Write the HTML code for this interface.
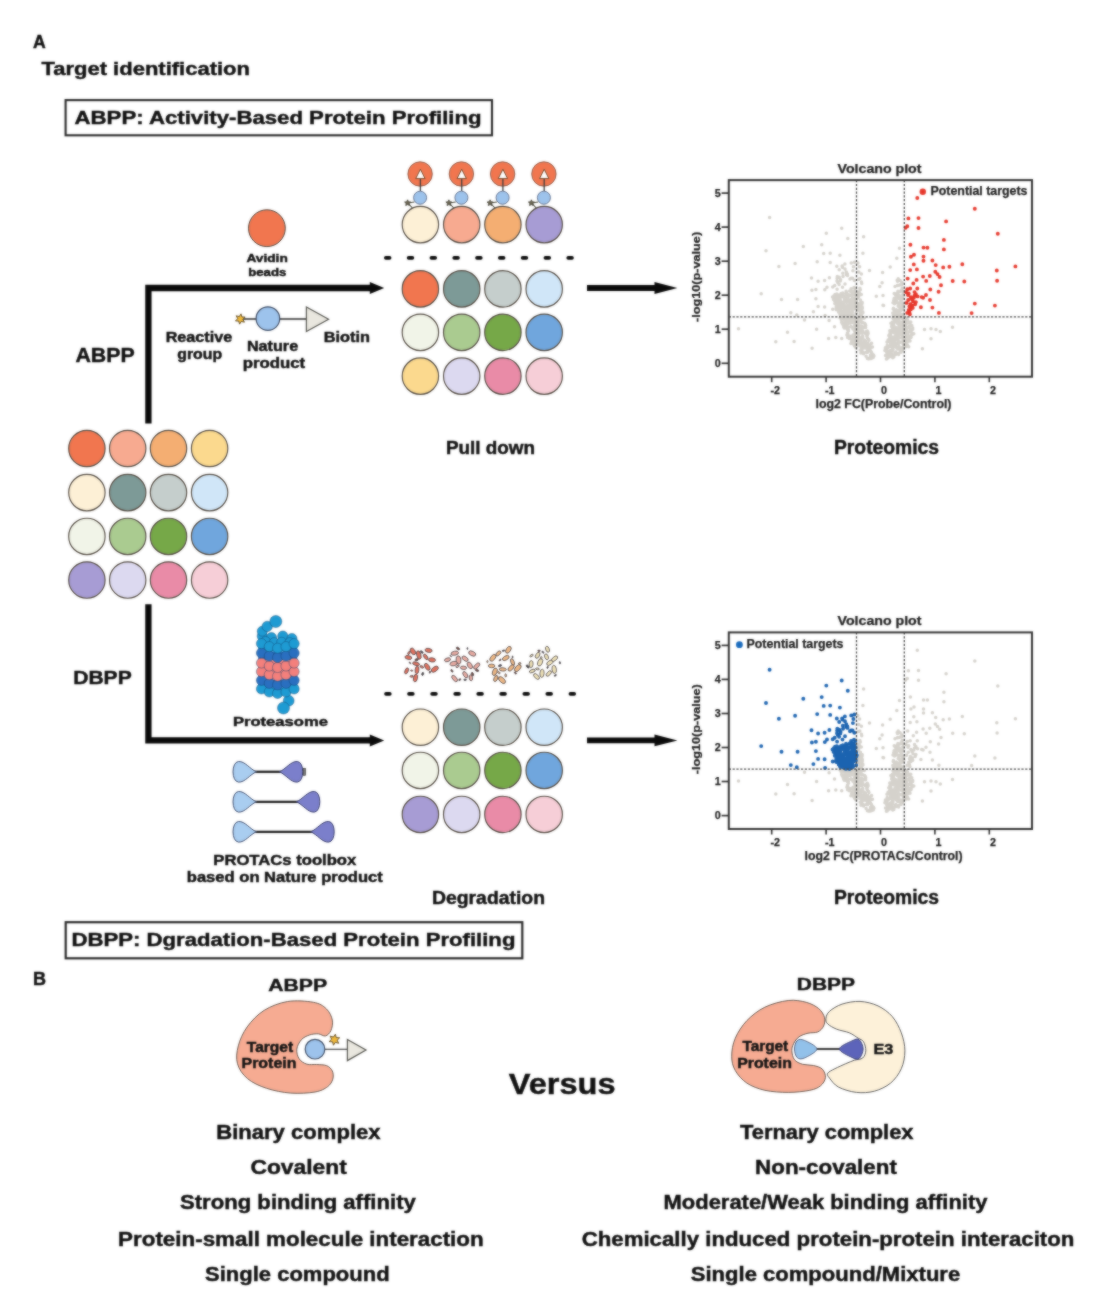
<!DOCTYPE html>
<html><head><meta charset="utf-8"><title>ABPP vs DBPP</title>
<style>
html,body{margin:0;padding:0;background:#fff;}
body{width:1114px;height:1302px;overflow:hidden;}
svg{display:block;}
svg text{font-family:"Liberation Sans",Arial,sans-serif;font-weight:700;}
</style></head><body>
<svg width="1114" height="1302" viewBox="0 0 1114 1302">
<defs><filter id="soft" color-interpolation-filters="sRGB" x="0" y="0" width="1114" height="1302" filterUnits="userSpaceOnUse"><feGaussianBlur in="SourceGraphic" stdDeviation="0.9" result="b"/><feComposite in="SourceGraphic" in2="b" operator="arithmetic" k1="0" k2="0.4" k3="0.6" k4="0"/></filter></defs>
<rect width="1114" height="1302" fill="#fff"/>
<g filter="url(#soft)">
<text x="33.1" y="48.1" font-size="17.60" text-anchor="start" fill="#111" stroke="#111" stroke-width="0.45" >A</text>
<text x="41.4" y="74.8" font-size="19.14" text-anchor="start" fill="#111" stroke="#111" stroke-width="0.45" textLength="208.6" lengthAdjust="spacingAndGlyphs" >Target identification</text>
<rect x="65.6" y="100.1" width="426.4" height="35.2" fill="#fff" stroke="#2a2a2a" stroke-width="2.1"/>
<text x="74.6" y="123.8" font-size="19.14" text-anchor="start" fill="#111" stroke="#111" stroke-width="0.45" textLength="407.0" lengthAdjust="spacingAndGlyphs" >ABPP: Activity-Based Protein Profiling</text>
<rect x="65.7" y="922.2" width="456.6" height="36.1" fill="#fff" stroke="#2a2a2a" stroke-width="2.2"/>
<text x="71.6" y="946.0" font-size="19.14" text-anchor="start" fill="#111" stroke="#111" stroke-width="0.45" textLength="443.8" lengthAdjust="spacingAndGlyphs" >DBPP: Dgradation-Based Protein Profiling</text>
<text x="32.9" y="985.3" font-size="18.04" text-anchor="start" fill="#111" stroke="#111" stroke-width="0.45" >B</text>
<path d="M148.4 423.5 V288 H371" fill="none" stroke="#0a0a0a" stroke-width="6.3" stroke-linejoin="miter"/>
<path d="M369.8 282 L384.2 288 L369.8 294 Z" fill="#0a0a0a"/>
<path d="M148.4 604.3 V740.4 H371" fill="none" stroke="#0a0a0a" stroke-width="6.3" stroke-linejoin="miter"/>
<path d="M369.8 734.4 L384.2 740.4 L369.8 746.4 Z" fill="#0a0a0a"/>
<path d="M587 288.0 H657" fill="none" stroke="#0a0a0a" stroke-width="5.9"/>
<path d="M654.5 282.1 L677.4 288.0 L654.5 293.9 Z" fill="#0a0a0a"/>
<path d="M587 740.4 H657" fill="none" stroke="#0a0a0a" stroke-width="5.9"/>
<path d="M654.5 734.5 L677.4 740.4 L654.5 746.3 Z" fill="#0a0a0a"/>
<text x="75.4" y="362.2" font-size="20.24" text-anchor="start" fill="#111" stroke="#111" stroke-width="0.45" textLength="59.3" lengthAdjust="spacingAndGlyphs" >ABPP</text>
<text x="73.2" y="684.3" font-size="19.14" text-anchor="start" fill="#111" stroke="#111" stroke-width="0.45" textLength="58.5" lengthAdjust="spacingAndGlyphs" >DBPP</text>
<circle cx="86.9" cy="448.5" r="18.2" fill="#f1764f" stroke="#50483f" stroke-width="1.15"/>
<circle cx="127.7" cy="448.5" r="18.2" fill="#f7aa90" stroke="#50483f" stroke-width="1.15"/>
<circle cx="168.5" cy="448.5" r="18.2" fill="#f4ae72" stroke="#50483f" stroke-width="1.15"/>
<circle cx="209.6" cy="448.5" r="18.2" fill="#fbd98e" stroke="#50483f" stroke-width="1.15"/>
<circle cx="86.9" cy="492.6" r="18.2" fill="#fdf0d6" stroke="#50483f" stroke-width="1.15"/>
<circle cx="127.7" cy="492.6" r="18.2" fill="#7d9a97" stroke="#50483f" stroke-width="1.15"/>
<circle cx="168.5" cy="492.6" r="18.2" fill="#c5cecc" stroke="#50483f" stroke-width="1.15"/>
<circle cx="209.6" cy="492.6" r="18.2" fill="#d0e6f8" stroke="#50483f" stroke-width="1.15"/>
<circle cx="86.9" cy="536.4" r="18.2" fill="#f1f4e8" stroke="#50483f" stroke-width="1.15"/>
<circle cx="127.7" cy="536.4" r="18.2" fill="#aacb90" stroke="#50483f" stroke-width="1.15"/>
<circle cx="168.5" cy="536.4" r="18.2" fill="#76a848" stroke="#50483f" stroke-width="1.15"/>
<circle cx="209.6" cy="536.4" r="18.2" fill="#70a6dd" stroke="#50483f" stroke-width="1.15"/>
<circle cx="86.9" cy="580.0" r="18.2" fill="#a79cd4" stroke="#50483f" stroke-width="1.15"/>
<circle cx="127.7" cy="580.0" r="18.2" fill="#dcd9f0" stroke="#50483f" stroke-width="1.15"/>
<circle cx="168.5" cy="580.0" r="18.2" fill="#e98ba7" stroke="#50483f" stroke-width="1.15"/>
<circle cx="209.6" cy="580.0" r="18.2" fill="#f6ced7" stroke="#50483f" stroke-width="1.15"/>
<circle cx="266.9" cy="228.2" r="18.4" fill="#f1764f" stroke="#50483f" stroke-width="1"/>
<text x="267.1" y="261.6" font-size="11.66" text-anchor="middle" fill="#111" stroke="#111" stroke-width="0.45" textLength="41.3" lengthAdjust="spacingAndGlyphs" >Avidin</text>
<text x="267.3" y="276.2" font-size="11.66" text-anchor="middle" fill="#111" stroke="#111" stroke-width="0.45" textLength="38.2" lengthAdjust="spacingAndGlyphs" >beads</text>
<path d="M243 319 H306.5" stroke="#2a2a2a" stroke-width="1.4" fill="none"/>
<polygon points="241.02,313.85 241.90,316.95 245.12,317.05 242.87,319.36 244.40,322.20 241.27,321.41 239.58,324.15 238.70,321.05 235.48,320.95 237.73,318.64 236.20,315.80 239.33,316.59" fill="#f0b93a" stroke="#5a4520" stroke-width="0.9" stroke-linejoin="round"/>
<circle cx="267.9" cy="318.6" r="11.8" fill="#9dc3ec" stroke="#3c4a62" stroke-width="1.2"/>
<path d="M306.4 306.9 L328.6 319.2 L306.4 331.6 Z" fill="#e9e7df" stroke="#55554f" stroke-width="1.2"/>
<text x="165.7" y="341.7" font-size="14.96" text-anchor="start" fill="#111" stroke="#111" stroke-width="0.45" textLength="66.5" lengthAdjust="spacingAndGlyphs" >Reactive</text>
<text x="177.3" y="358.5" font-size="14.96" text-anchor="start" fill="#111" stroke="#111" stroke-width="0.45" textLength="44.8" lengthAdjust="spacingAndGlyphs" >group</text>
<text x="246.9" y="351.0" font-size="14.96" text-anchor="start" fill="#111" stroke="#111" stroke-width="0.45" textLength="51.3" lengthAdjust="spacingAndGlyphs" >Nature</text>
<text x="242.7" y="367.8" font-size="14.96" text-anchor="start" fill="#111" stroke="#111" stroke-width="0.45" textLength="62.5" lengthAdjust="spacingAndGlyphs" >product</text>
<text x="323.7" y="341.7" font-size="14.96" text-anchor="start" fill="#111" stroke="#111" stroke-width="0.45" textLength="46.2" lengthAdjust="spacingAndGlyphs" >Biotin</text>
<circle cx="420.4" cy="224.6" r="18.2" fill="#fdf0d6" stroke="#50483f" stroke-width="1.15"/>
<circle cx="420.1" cy="174" r="12.2" fill="#f1764f" stroke="#7a4a38" stroke-width="0.8"/>
<path d="M420.4 178 V191" stroke="#3c3c3c" stroke-width="1.3"/>
<path d="M415.7 178.6 L420.4 169.2 L425.1 178.6 Z" fill="#fff" stroke="#7a4a2a" stroke-width="1"/>
<circle cx="420.1" cy="197.7" r="6.5" fill="#9dc3ec" stroke="#5a6a88" stroke-width="0.9"/>
<path d="M407.9 203 L414.4 202 M407.9 203 L412.4 208" stroke="#4a4a3a" stroke-width="1.1" fill="none"/>
<polygon points="407.60,199.80 408.54,201.71 410.64,202.01 409.12,203.49 409.48,205.59 407.60,204.60 405.72,205.59 406.08,203.49 404.56,202.01 406.66,201.71" fill="#6a6450" stroke="#3a382e" stroke-width="0.7" stroke-linejoin="round"/>
<circle cx="461.7" cy="224.6" r="18.2" fill="#f7aa90" stroke="#50483f" stroke-width="1.15"/>
<circle cx="461.4" cy="174" r="12.2" fill="#f1764f" stroke="#7a4a38" stroke-width="0.8"/>
<path d="M461.7 178 V191" stroke="#3c3c3c" stroke-width="1.3"/>
<path d="M457.0 178.6 L461.7 169.2 L466.4 178.6 Z" fill="#fff" stroke="#7a4a2a" stroke-width="1"/>
<circle cx="461.4" cy="197.7" r="6.5" fill="#9dc3ec" stroke="#5a6a88" stroke-width="0.9"/>
<path d="M449.2 203 L455.7 202 M449.2 203 L453.7 208" stroke="#4a4a3a" stroke-width="1.1" fill="none"/>
<polygon points="448.90,199.80 449.84,201.71 451.94,202.01 450.42,203.49 450.78,205.59 448.90,204.60 447.02,205.59 447.38,203.49 445.86,202.01 447.96,201.71" fill="#6a6450" stroke="#3a382e" stroke-width="0.7" stroke-linejoin="round"/>
<circle cx="502.9" cy="224.6" r="18.2" fill="#f4ae72" stroke="#50483f" stroke-width="1.15"/>
<circle cx="502.6" cy="174" r="12.2" fill="#f1764f" stroke="#7a4a38" stroke-width="0.8"/>
<path d="M502.9 178 V191" stroke="#3c3c3c" stroke-width="1.3"/>
<path d="M498.2 178.6 L502.9 169.2 L507.6 178.6 Z" fill="#fff" stroke="#7a4a2a" stroke-width="1"/>
<circle cx="502.6" cy="197.7" r="6.5" fill="#9dc3ec" stroke="#5a6a88" stroke-width="0.9"/>
<path d="M490.4 203 L496.9 202 M490.4 203 L494.9 208" stroke="#4a4a3a" stroke-width="1.1" fill="none"/>
<polygon points="490.10,199.80 491.04,201.71 493.14,202.01 491.62,203.49 491.98,205.59 490.10,204.60 488.22,205.59 488.58,203.49 487.06,202.01 489.16,201.71" fill="#6a6450" stroke="#3a382e" stroke-width="0.7" stroke-linejoin="round"/>
<circle cx="544.2" cy="224.6" r="18.2" fill="#a79cd4" stroke="#50483f" stroke-width="1.15"/>
<circle cx="543.9" cy="174" r="12.2" fill="#f1764f" stroke="#7a4a38" stroke-width="0.8"/>
<path d="M544.2 178 V191" stroke="#3c3c3c" stroke-width="1.3"/>
<path d="M539.5 178.6 L544.2 169.2 L548.9 178.6 Z" fill="#fff" stroke="#7a4a2a" stroke-width="1"/>
<circle cx="543.9" cy="197.7" r="6.5" fill="#9dc3ec" stroke="#5a6a88" stroke-width="0.9"/>
<path d="M531.7 203 L538.2 202 M531.7 203 L536.2 208" stroke="#4a4a3a" stroke-width="1.1" fill="none"/>
<polygon points="531.40,199.80 532.34,201.71 534.44,202.01 532.92,203.49 533.28,205.59 531.40,204.60 529.52,205.59 529.88,203.49 528.36,202.01 530.46,201.71" fill="#6a6450" stroke="#3a382e" stroke-width="0.7" stroke-linejoin="round"/>
<rect x="384.0" y="256.0" width="7.4" height="3.8" rx="1.8" fill="#0a0a0a"/>
<rect x="406.8" y="256.0" width="7.4" height="3.8" rx="1.8" fill="#0a0a0a"/>
<rect x="429.6" y="256.0" width="7.4" height="3.8" rx="1.8" fill="#0a0a0a"/>
<rect x="452.4" y="256.0" width="7.4" height="3.8" rx="1.8" fill="#0a0a0a"/>
<rect x="475.2" y="256.0" width="7.4" height="3.8" rx="1.8" fill="#0a0a0a"/>
<rect x="498.0" y="256.0" width="7.4" height="3.8" rx="1.8" fill="#0a0a0a"/>
<rect x="520.8" y="256.0" width="7.4" height="3.8" rx="1.8" fill="#0a0a0a"/>
<rect x="543.6" y="256.0" width="7.4" height="3.8" rx="1.8" fill="#0a0a0a"/>
<rect x="566.4" y="256.0" width="7.4" height="3.8" rx="1.8" fill="#0a0a0a"/>
<circle cx="420.4" cy="288.9" r="18.2" fill="#f1764f" stroke="#50483f" stroke-width="1.15"/>
<circle cx="461.7" cy="288.9" r="18.2" fill="#7d9a97" stroke="#50483f" stroke-width="1.15"/>
<circle cx="502.9" cy="288.9" r="18.2" fill="#c5cecc" stroke="#50483f" stroke-width="1.15"/>
<circle cx="544.2" cy="288.9" r="18.2" fill="#d0e6f8" stroke="#50483f" stroke-width="1.15"/>
<circle cx="420.4" cy="332.4" r="18.2" fill="#f1f4e8" stroke="#50483f" stroke-width="1.15"/>
<circle cx="461.7" cy="332.4" r="18.2" fill="#aacb90" stroke="#50483f" stroke-width="1.15"/>
<circle cx="502.9" cy="332.4" r="18.2" fill="#76a848" stroke="#50483f" stroke-width="1.15"/>
<circle cx="544.2" cy="332.4" r="18.2" fill="#70a6dd" stroke="#50483f" stroke-width="1.15"/>
<circle cx="420.4" cy="376.1" r="18.2" fill="#fbd98e" stroke="#50483f" stroke-width="1.15"/>
<circle cx="461.7" cy="376.1" r="18.2" fill="#dcd9f0" stroke="#50483f" stroke-width="1.15"/>
<circle cx="502.9" cy="376.1" r="18.2" fill="#e98ba7" stroke="#50483f" stroke-width="1.15"/>
<circle cx="544.2" cy="376.1" r="18.2" fill="#f6ced7" stroke="#50483f" stroke-width="1.15"/>
<text x="490.5" y="453.5" font-size="18.15" text-anchor="middle" fill="#111" stroke="#111" stroke-width="0.45" textLength="89.0" lengthAdjust="spacingAndGlyphs" >Pull down</text>
<text x="886.5" y="453.5" font-size="19.36" text-anchor="middle" fill="#111" stroke="#111" stroke-width="0.45" textLength="105.0" lengthAdjust="spacingAndGlyphs" >Proteomics</text>
<rect x="384.2" y="692.0" width="7.4" height="3.8" rx="1.8" fill="#0a0a0a"/>
<rect x="407.2" y="692.0" width="7.4" height="3.8" rx="1.8" fill="#0a0a0a"/>
<rect x="430.3" y="692.0" width="7.4" height="3.8" rx="1.8" fill="#0a0a0a"/>
<rect x="453.4" y="692.0" width="7.4" height="3.8" rx="1.8" fill="#0a0a0a"/>
<rect x="476.4" y="692.0" width="7.4" height="3.8" rx="1.8" fill="#0a0a0a"/>
<rect x="499.4" y="692.0" width="7.4" height="3.8" rx="1.8" fill="#0a0a0a"/>
<rect x="522.5" y="692.0" width="7.4" height="3.8" rx="1.8" fill="#0a0a0a"/>
<rect x="545.5" y="692.0" width="7.4" height="3.8" rx="1.8" fill="#0a0a0a"/>
<rect x="568.6" y="692.0" width="7.4" height="3.8" rx="1.8" fill="#0a0a0a"/>
<circle cx="420.4" cy="727.2" r="18.2" fill="#fdf0d6" stroke="#50483f" stroke-width="1.15"/>
<circle cx="461.7" cy="727.2" r="18.2" fill="#7d9a97" stroke="#50483f" stroke-width="1.15"/>
<circle cx="502.9" cy="727.2" r="18.2" fill="#c5cecc" stroke="#50483f" stroke-width="1.15"/>
<circle cx="544.2" cy="727.2" r="18.2" fill="#d0e6f8" stroke="#50483f" stroke-width="1.15"/>
<circle cx="420.4" cy="770.4" r="18.2" fill="#f1f4e8" stroke="#50483f" stroke-width="1.15"/>
<circle cx="461.7" cy="770.4" r="18.2" fill="#aacb90" stroke="#50483f" stroke-width="1.15"/>
<circle cx="502.9" cy="770.4" r="18.2" fill="#76a848" stroke="#50483f" stroke-width="1.15"/>
<circle cx="544.2" cy="770.4" r="18.2" fill="#70a6dd" stroke="#50483f" stroke-width="1.15"/>
<circle cx="420.4" cy="814.4" r="18.2" fill="#a79cd4" stroke="#50483f" stroke-width="1.15"/>
<circle cx="461.7" cy="814.4" r="18.2" fill="#dcd9f0" stroke="#50483f" stroke-width="1.15"/>
<circle cx="502.9" cy="814.4" r="18.2" fill="#e98ba7" stroke="#50483f" stroke-width="1.15"/>
<circle cx="544.2" cy="814.4" r="18.2" fill="#f6ced7" stroke="#50483f" stroke-width="1.15"/>
<ellipse cx="417.0" cy="670.0" rx="3.8" ry="1.9" transform="rotate(96 417.0 670.0)" fill="#e2705c" stroke="#4a4448" stroke-width="0.75"/>
<ellipse cx="416.1" cy="663.8" rx="3.6" ry="1.7" transform="rotate(16 416.1 663.8)" fill="#e2705c" stroke="#4a4448" stroke-width="0.75"/>
<ellipse cx="406.6" cy="670.9" rx="3.2" ry="1.6" transform="rotate(113 406.6 670.9)" fill="#e2705c" stroke="#4a4448" stroke-width="0.75"/>
<ellipse cx="432.0" cy="659.9" rx="3.5" ry="2.1" transform="rotate(8 432.0 659.9)" fill="#e2705c" stroke="#4a4448" stroke-width="0.75"/>
<ellipse cx="425.7" cy="656.9" rx="3.2" ry="1.6" transform="rotate(56 425.7 656.9)" fill="#e2705c" stroke="#4a4448" stroke-width="0.75"/>
<ellipse cx="408.4" cy="657.5" rx="3.5" ry="1.9" transform="rotate(11 408.4 657.5)" fill="#e2705c" stroke="#4a4448" stroke-width="0.75"/>
<ellipse cx="427.2" cy="666.8" rx="3.9" ry="2.1" transform="rotate(57 427.2 666.8)" fill="#e2705c" stroke="#4a4448" stroke-width="0.75"/>
<ellipse cx="415.5" cy="678.0" rx="3.9" ry="2.0" transform="rotate(103 415.5 678.0)" fill="#e2705c" stroke="#4a4448" stroke-width="0.75"/>
<ellipse cx="418.8" cy="655.0" rx="4.3" ry="2.1" transform="rotate(75 418.8 655.0)" fill="#e2705c" stroke="#4a4448" stroke-width="0.75"/>
<ellipse cx="412.9" cy="651.4" rx="3.7" ry="2.2" transform="rotate(56 412.9 651.4)" fill="#e2705c" stroke="#4a4448" stroke-width="0.75"/>
<ellipse cx="428.6" cy="650.4" rx="3.6" ry="2.0" transform="rotate(11 428.6 650.4)" fill="#e2705c" stroke="#4a4448" stroke-width="0.75"/>
<ellipse cx="434.8" cy="669.2" rx="4.0" ry="2.3" transform="rotate(144 434.8 669.2)" fill="#e2705c" stroke="#4a4448" stroke-width="0.75"/>
<ellipse cx="411.7" cy="670.6" rx="1.1" ry="0.6" transform="rotate(11 411.7 670.6)" fill="#e2705c" stroke="#4a4448" stroke-width="0.75"/>
<ellipse cx="429.9" cy="672.2" rx="1.1" ry="0.6" transform="rotate(97 429.9 672.2)" fill="#6a3a30" stroke="#4a4448" stroke-width="0.75"/>
<ellipse cx="422.7" cy="673.9" rx="1.6" ry="0.9" transform="rotate(108 422.7 673.9)" fill="#3a3a3a" stroke="#4a4448" stroke-width="0.75"/>
<ellipse cx="421.8" cy="666.9" rx="1.9" ry="1.0" transform="rotate(26 421.8 666.9)" fill="#e2705c" stroke="#4a4448" stroke-width="0.75"/>
<ellipse cx="416.6" cy="659.7" rx="1.8" ry="1.0" transform="rotate(163 416.6 659.7)" fill="#6a3a30" stroke="#4a4448" stroke-width="0.75"/>
<ellipse cx="421.7" cy="652.0" rx="1.7" ry="0.9" transform="rotate(40 421.7 652.0)" fill="#4a4a5a" stroke="#4a4448" stroke-width="0.75"/>
<ellipse cx="410.0" cy="662.9" rx="1.0" ry="0.5" transform="rotate(50 410.0 662.9)" fill="#6a3a30" stroke="#4a4448" stroke-width="0.75"/>
<ellipse cx="411.7" cy="676.3" rx="1.7" ry="0.9" transform="rotate(175 411.7 676.3)" fill="#e2705c" stroke="#4a4448" stroke-width="0.75"/>
<ellipse cx="408.9" cy="653.0" rx="1.8" ry="0.9" transform="rotate(118 408.9 653.0)" fill="#e2705c" stroke="#4a4448" stroke-width="0.75"/>
<ellipse cx="465.1" cy="658.7" rx="3.5" ry="2.0" transform="rotate(36 465.1 658.7)" fill="#ebaca2" stroke="#4a4448" stroke-width="0.75"/>
<ellipse cx="458.5" cy="660.0" rx="4.2" ry="2.4" transform="rotate(83 458.5 660.0)" fill="#ebaca2" stroke="#4a4448" stroke-width="0.75"/>
<ellipse cx="470.9" cy="677.8" rx="3.0" ry="1.7" transform="rotate(84 470.9 677.8)" fill="#ebaca2" stroke="#4a4448" stroke-width="0.75"/>
<ellipse cx="454.8" cy="653.2" rx="3.8" ry="2.0" transform="rotate(169 454.8 653.2)" fill="#ebaca2" stroke="#4a4448" stroke-width="0.75"/>
<ellipse cx="476.7" cy="666.0" rx="3.9" ry="1.9" transform="rotate(135 476.7 666.0)" fill="#ebaca2" stroke="#4a4448" stroke-width="0.75"/>
<ellipse cx="469.8" cy="665.4" rx="3.7" ry="2.1" transform="rotate(59 469.8 665.4)" fill="#ebaca2" stroke="#4a4448" stroke-width="0.75"/>
<ellipse cx="447.5" cy="659.8" rx="3.1" ry="1.8" transform="rotate(162 447.5 659.8)" fill="#ebaca2" stroke="#4a4448" stroke-width="0.75"/>
<ellipse cx="472.2" cy="653.5" rx="3.8" ry="2.2" transform="rotate(27 472.2 653.5)" fill="#ebaca2" stroke="#4a4448" stroke-width="0.75"/>
<ellipse cx="463.5" cy="667.8" rx="3.1" ry="1.7" transform="rotate(5 463.5 667.8)" fill="#ebaca2" stroke="#4a4448" stroke-width="0.75"/>
<ellipse cx="454.6" cy="678.5" rx="3.8" ry="1.9" transform="rotate(50 454.6 678.5)" fill="#ebaca2" stroke="#4a4448" stroke-width="0.75"/>
<ellipse cx="453.6" cy="663.6" rx="3.7" ry="2.2" transform="rotate(167 453.6 663.6)" fill="#ebaca2" stroke="#4a4448" stroke-width="0.75"/>
<ellipse cx="465.3" cy="674.7" rx="3.5" ry="1.9" transform="rotate(57 465.3 674.7)" fill="#ebaca2" stroke="#4a4448" stroke-width="0.75"/>
<ellipse cx="472.5" cy="674.1" rx="1.8" ry="1.0" transform="rotate(66 472.5 674.1)" fill="#6a3a30" stroke="#4a4448" stroke-width="0.75"/>
<ellipse cx="465.1" cy="679.8" rx="1.4" ry="0.7" transform="rotate(178 465.1 679.8)" fill="#4a4a5a" stroke="#4a4448" stroke-width="0.75"/>
<ellipse cx="477.1" cy="670.4" rx="1.7" ry="1.0" transform="rotate(19 477.1 670.4)" fill="#6a3a30" stroke="#4a4448" stroke-width="0.75"/>
<ellipse cx="459.8" cy="679.6" rx="1.2" ry="0.7" transform="rotate(148 459.8 679.6)" fill="#6a3a30" stroke="#4a4448" stroke-width="0.75"/>
<ellipse cx="451.9" cy="670.8" rx="1.5" ry="0.8" transform="rotate(59 451.9 670.8)" fill="#6a3a30" stroke="#4a4448" stroke-width="0.75"/>
<ellipse cx="457.6" cy="666.3" rx="1.8" ry="1.0" transform="rotate(144 457.6 666.3)" fill="#ebaca2" stroke="#4a4448" stroke-width="0.75"/>
<ellipse cx="458.0" cy="648.5" rx="1.9" ry="1.0" transform="rotate(33 458.0 648.5)" fill="#6a3a30" stroke="#4a4448" stroke-width="0.75"/>
<ellipse cx="467.4" cy="648.5" rx="1.0" ry="0.5" transform="rotate(91 467.4 648.5)" fill="#4a4a5a" stroke="#4a4448" stroke-width="0.75"/>
<ellipse cx="450.8" cy="656.0" rx="1.0" ry="0.5" transform="rotate(48 450.8 656.0)" fill="#ebaca2" stroke="#4a4448" stroke-width="0.75"/>
<ellipse cx="502.0" cy="680.1" rx="4.3" ry="2.3" transform="rotate(44 502.0 680.1)" fill="#efb884" stroke="#4a4448" stroke-width="0.75"/>
<ellipse cx="512.5" cy="662.0" rx="3.5" ry="1.7" transform="rotate(69 512.5 662.0)" fill="#efb884" stroke="#4a4448" stroke-width="0.75"/>
<ellipse cx="491.6" cy="665.9" rx="3.3" ry="1.8" transform="rotate(1 491.6 665.9)" fill="#efb884" stroke="#4a4448" stroke-width="0.75"/>
<ellipse cx="502.8" cy="669.4" rx="3.5" ry="1.7" transform="rotate(4 502.8 669.4)" fill="#efb884" stroke="#4a4448" stroke-width="0.75"/>
<ellipse cx="492.9" cy="657.8" rx="4.0" ry="2.2" transform="rotate(129 492.9 657.8)" fill="#efb884" stroke="#4a4448" stroke-width="0.75"/>
<ellipse cx="495.8" cy="678.5" rx="3.2" ry="1.8" transform="rotate(116 495.8 678.5)" fill="#efb884" stroke="#4a4448" stroke-width="0.75"/>
<ellipse cx="517.8" cy="668.1" rx="4.2" ry="2.3" transform="rotate(132 517.8 668.1)" fill="#efb884" stroke="#4a4448" stroke-width="0.75"/>
<ellipse cx="505.8" cy="658.0" rx="3.7" ry="2.0" transform="rotate(150 505.8 658.0)" fill="#efb884" stroke="#4a4448" stroke-width="0.75"/>
<ellipse cx="508.4" cy="649.8" rx="3.8" ry="2.2" transform="rotate(123 508.4 649.8)" fill="#efb884" stroke="#4a4448" stroke-width="0.75"/>
<ellipse cx="498.4" cy="653.4" rx="3.0" ry="1.7" transform="rotate(135 498.4 653.4)" fill="#efb884" stroke="#4a4448" stroke-width="0.75"/>
<ellipse cx="511.1" cy="667.9" rx="3.9" ry="2.0" transform="rotate(133 511.1 667.9)" fill="#efb884" stroke="#4a4448" stroke-width="0.75"/>
<ellipse cx="494.8" cy="671.8" rx="3.9" ry="2.2" transform="rotate(111 494.8 671.8)" fill="#efb884" stroke="#4a4448" stroke-width="0.75"/>
<ellipse cx="500.1" cy="660.0" rx="1.1" ry="0.6" transform="rotate(134 500.1 660.0)" fill="#6a3a30" stroke="#4a4448" stroke-width="0.75"/>
<ellipse cx="505.7" cy="675.4" rx="1.6" ry="0.8" transform="rotate(84 505.7 675.4)" fill="#efb884" stroke="#4a4448" stroke-width="0.75"/>
<ellipse cx="519.7" cy="663.4" rx="1.3" ry="0.8" transform="rotate(167 519.7 663.4)" fill="#efb884" stroke="#4a4448" stroke-width="0.75"/>
<ellipse cx="487.4" cy="661.6" rx="1.1" ry="0.6" transform="rotate(92 487.4 661.6)" fill="#efb884" stroke="#4a4448" stroke-width="0.75"/>
<ellipse cx="512.6" cy="657.0" rx="1.0" ry="0.5" transform="rotate(89 512.6 657.0)" fill="#3a3a3a" stroke="#4a4448" stroke-width="0.75"/>
<ellipse cx="498.9" cy="672.7" rx="1.4" ry="0.8" transform="rotate(35 498.9 672.7)" fill="#efb884" stroke="#4a4448" stroke-width="0.75"/>
<ellipse cx="515.4" cy="673.0" rx="1.3" ry="0.7" transform="rotate(45 515.4 673.0)" fill="#6a3a30" stroke="#4a4448" stroke-width="0.75"/>
<ellipse cx="500.0" cy="665.6" rx="1.7" ry="0.9" transform="rotate(158 500.0 665.6)" fill="#4a4a5a" stroke="#4a4448" stroke-width="0.75"/>
<ellipse cx="503.5" cy="650.7" rx="1.3" ry="0.6" transform="rotate(167 503.5 650.7)" fill="#4a4a5a" stroke="#4a4448" stroke-width="0.75"/>
<ellipse cx="548.8" cy="673.5" rx="3.4" ry="1.7" transform="rotate(133 548.8 673.5)" fill="#f1e4b8" stroke="#4a4448" stroke-width="0.75"/>
<ellipse cx="537.6" cy="655.3" rx="3.3" ry="1.8" transform="rotate(120 537.6 655.3)" fill="#f1e4b8" stroke="#4a4448" stroke-width="0.75"/>
<ellipse cx="554.2" cy="669.4" rx="4.1" ry="2.2" transform="rotate(82 554.2 669.4)" fill="#f1e4b8" stroke="#4a4448" stroke-width="0.75"/>
<ellipse cx="536.5" cy="676.5" rx="3.6" ry="1.9" transform="rotate(44 536.5 676.5)" fill="#f1e4b8" stroke="#4a4448" stroke-width="0.75"/>
<ellipse cx="546.5" cy="656.8" rx="3.0" ry="1.8" transform="rotate(69 546.5 656.8)" fill="#f1e4b8" stroke="#4a4448" stroke-width="0.75"/>
<ellipse cx="531.1" cy="664.1" rx="3.5" ry="2.0" transform="rotate(95 531.1 664.1)" fill="#f1e4b8" stroke="#4a4448" stroke-width="0.75"/>
<ellipse cx="547.5" cy="649.3" rx="3.1" ry="1.8" transform="rotate(69 547.5 649.3)" fill="#f1e4b8" stroke="#4a4448" stroke-width="0.75"/>
<ellipse cx="549.9" cy="662.7" rx="3.6" ry="2.0" transform="rotate(145 549.9 662.7)" fill="#f1e4b8" stroke="#4a4448" stroke-width="0.75"/>
<ellipse cx="554.6" cy="658.7" rx="3.6" ry="1.9" transform="rotate(141 554.6 658.7)" fill="#f1e4b8" stroke="#4a4448" stroke-width="0.75"/>
<ellipse cx="540.1" cy="662.3" rx="3.9" ry="2.3" transform="rotate(113 540.1 662.3)" fill="#f1e4b8" stroke="#4a4448" stroke-width="0.75"/>
<ellipse cx="542.0" cy="673.3" rx="4.1" ry="2.1" transform="rotate(95 542.0 673.3)" fill="#f1e4b8" stroke="#4a4448" stroke-width="0.75"/>
<ellipse cx="532.3" cy="671.0" rx="3.1" ry="1.5" transform="rotate(159 532.3 671.0)" fill="#f1e4b8" stroke="#4a4448" stroke-width="0.75"/>
<ellipse cx="539.0" cy="650.8" rx="1.3" ry="0.7" transform="rotate(1 539.0 650.8)" fill="#6a3a30" stroke="#4a4448" stroke-width="0.75"/>
<ellipse cx="542.9" cy="652.2" rx="1.2" ry="0.7" transform="rotate(56 542.9 652.2)" fill="#4a4a5a" stroke="#4a4448" stroke-width="0.75"/>
<ellipse cx="537.5" cy="668.9" rx="1.9" ry="0.9" transform="rotate(9 537.5 668.9)" fill="#f1e4b8" stroke="#4a4448" stroke-width="0.75"/>
<ellipse cx="547.6" cy="667.4" rx="1.1" ry="0.6" transform="rotate(117 547.6 667.4)" fill="#3a3a3a" stroke="#4a4448" stroke-width="0.75"/>
<ellipse cx="555.3" cy="675.4" rx="1.2" ry="0.6" transform="rotate(148 555.3 675.4)" fill="#3a3a3a" stroke="#4a4448" stroke-width="0.75"/>
<ellipse cx="531.5" cy="655.6" rx="1.9" ry="0.9" transform="rotate(149 531.5 655.6)" fill="#f1e4b8" stroke="#4a4448" stroke-width="0.75"/>
<ellipse cx="527.7" cy="666.5" rx="1.9" ry="1.0" transform="rotate(45 527.7 666.5)" fill="#3a3a3a" stroke="#4a4448" stroke-width="0.75"/>
<ellipse cx="541.3" cy="657.7" rx="1.2" ry="0.7" transform="rotate(83 541.3 657.7)" fill="#f1e4b8" stroke="#4a4448" stroke-width="0.75"/>
<ellipse cx="559.9" cy="662.8" rx="1.2" ry="0.6" transform="rotate(83 559.9 662.8)" fill="#4a4a5a" stroke="#4a4448" stroke-width="0.75"/>
<text x="488.5" y="903.5" font-size="18.15" text-anchor="middle" fill="#111" stroke="#111" stroke-width="0.45" textLength="113.0" lengthAdjust="spacingAndGlyphs" >Degradation</text>
<text x="886.5" y="903.5" font-size="19.36" text-anchor="middle" fill="#111" stroke="#111" stroke-width="0.45" textLength="105.0" lengthAdjust="spacingAndGlyphs" >Proteomics</text>
<rect x="258.2" y="640.9" width="39.1" height="10.8" fill="#1e9bd3"/>
<rect x="258.2" y="651.7" width="39.1" height="8.6" fill="#2a6fc0"/>
<rect x="258.2" y="660.3" width="39.1" height="19.4" fill="#f4807c"/>
<rect x="258.2" y="679.7" width="39.1" height="7.5" fill="#2a6fc0"/>
<rect x="258.2" y="687.3" width="39.1" height="5.4" fill="#1e9bd3"/>
<circle cx="262.3" cy="636.1" r="5.1" fill="#1e9bd3" stroke="#123f6a" stroke-width="0.6" stroke-opacity="0.7"/>
<circle cx="271.5" cy="637.7" r="5.1" fill="#1e9bd3" stroke="#123f6a" stroke-width="0.6" stroke-opacity="0.7"/>
<circle cx="282.8" cy="636.1" r="5.1" fill="#1e9bd3" stroke="#123f6a" stroke-width="0.6" stroke-opacity="0.7"/>
<circle cx="291.9" cy="638.6" r="5.1" fill="#1e9bd3" stroke="#123f6a" stroke-width="0.6" stroke-opacity="0.7"/>
<circle cx="262.3" cy="631.2" r="5.0" fill="#1e9bd3" stroke="#123f6a" stroke-width="0.6" stroke-opacity="0.7"/>
<circle cx="267.2" cy="626.4" r="5.2" fill="#1e9bd3" stroke="#123f6a" stroke-width="0.6" stroke-opacity="0.7"/>
<circle cx="288.7" cy="700.7" r="5.4" fill="#1e9bd3" stroke="#123f6a" stroke-width="0.6" stroke-opacity="0.7"/>
<circle cx="265.5" cy="641.5" r="5.0" fill="#1e9bd3" stroke="#123f6a" stroke-width="0.6" stroke-opacity="0.7"/>
<circle cx="274.2" cy="642.6" r="5.0" fill="#1e9bd3" stroke="#123f6a" stroke-width="0.6" stroke-opacity="0.7"/>
<circle cx="281.7" cy="642.2" r="5.0" fill="#1e9bd3" stroke="#123f6a" stroke-width="0.6" stroke-opacity="0.7"/>
<circle cx="289.8" cy="642.6" r="5.0" fill="#1e9bd3" stroke="#123f6a" stroke-width="0.6" stroke-opacity="0.7"/>
<circle cx="261.5" cy="688.9" r="5.1" fill="#1e9bd3" stroke="#123f6a" stroke-width="0.6" stroke-opacity="0.7"/>
<circle cx="269.3" cy="691.9" r="5.1" fill="#1e9bd3" stroke="#123f6a" stroke-width="0.6" stroke-opacity="0.7"/>
<circle cx="277.6" cy="693.4" r="5.1" fill="#1e9bd3" stroke="#123f6a" stroke-width="0.6" stroke-opacity="0.7"/>
<circle cx="286.0" cy="691.9" r="5.1" fill="#1e9bd3" stroke="#123f6a" stroke-width="0.6" stroke-opacity="0.7"/>
<circle cx="294.1" cy="688.9" r="5.1" fill="#1e9bd3" stroke="#123f6a" stroke-width="0.6" stroke-opacity="0.7"/>
<circle cx="261.5" cy="680.3" r="5.1" fill="#2a6fc0" stroke="#123f6a" stroke-width="0.6" stroke-opacity="0.7"/>
<circle cx="269.3" cy="683.3" r="5.1" fill="#2a6fc0" stroke="#123f6a" stroke-width="0.6" stroke-opacity="0.7"/>
<circle cx="277.6" cy="684.8" r="5.1" fill="#2a6fc0" stroke="#123f6a" stroke-width="0.6" stroke-opacity="0.7"/>
<circle cx="286.0" cy="683.3" r="5.1" fill="#2a6fc0" stroke="#123f6a" stroke-width="0.6" stroke-opacity="0.7"/>
<circle cx="294.1" cy="680.3" r="5.1" fill="#2a6fc0" stroke="#123f6a" stroke-width="0.6" stroke-opacity="0.7"/>
<circle cx="261.5" cy="671.6" r="5.1" fill="#f4807c" stroke="#123f6a" stroke-width="0.6" stroke-opacity="0.7"/>
<circle cx="269.3" cy="674.7" r="5.1" fill="#f4807c" stroke="#123f6a" stroke-width="0.6" stroke-opacity="0.7"/>
<circle cx="277.6" cy="676.2" r="5.1" fill="#f4807c" stroke="#123f6a" stroke-width="0.6" stroke-opacity="0.7"/>
<circle cx="286.0" cy="674.7" r="5.1" fill="#f4807c" stroke="#123f6a" stroke-width="0.6" stroke-opacity="0.7"/>
<circle cx="294.1" cy="671.6" r="5.1" fill="#f4807c" stroke="#123f6a" stroke-width="0.6" stroke-opacity="0.7"/>
<circle cx="261.5" cy="663.0" r="5.1" fill="#f4807c" stroke="#123f6a" stroke-width="0.6" stroke-opacity="0.7"/>
<circle cx="269.3" cy="666.0" r="5.1" fill="#f4807c" stroke="#123f6a" stroke-width="0.6" stroke-opacity="0.7"/>
<circle cx="277.6" cy="667.5" r="5.1" fill="#f4807c" stroke="#123f6a" stroke-width="0.6" stroke-opacity="0.7"/>
<circle cx="286.0" cy="666.0" r="5.1" fill="#f4807c" stroke="#123f6a" stroke-width="0.6" stroke-opacity="0.7"/>
<circle cx="294.1" cy="663.0" r="5.1" fill="#f4807c" stroke="#123f6a" stroke-width="0.6" stroke-opacity="0.7"/>
<circle cx="261.5" cy="653.0" r="5.1" fill="#2a6fc0" stroke="#123f6a" stroke-width="0.6" stroke-opacity="0.7"/>
<circle cx="269.3" cy="656.0" r="5.1" fill="#2a6fc0" stroke="#123f6a" stroke-width="0.6" stroke-opacity="0.7"/>
<circle cx="277.6" cy="657.5" r="5.1" fill="#2a6fc0" stroke="#123f6a" stroke-width="0.6" stroke-opacity="0.7"/>
<circle cx="286.0" cy="656.0" r="5.1" fill="#2a6fc0" stroke="#123f6a" stroke-width="0.6" stroke-opacity="0.7"/>
<circle cx="294.1" cy="653.0" r="5.1" fill="#2a6fc0" stroke="#123f6a" stroke-width="0.6" stroke-opacity="0.7"/>
<circle cx="261.5" cy="643.6" r="5.1" fill="#1e9bd3" stroke="#123f6a" stroke-width="0.6" stroke-opacity="0.7"/>
<circle cx="269.3" cy="646.6" r="5.1" fill="#1e9bd3" stroke="#123f6a" stroke-width="0.6" stroke-opacity="0.7"/>
<circle cx="277.6" cy="648.2" r="5.1" fill="#1e9bd3" stroke="#123f6a" stroke-width="0.6" stroke-opacity="0.7"/>
<circle cx="286.0" cy="646.6" r="5.1" fill="#1e9bd3" stroke="#123f6a" stroke-width="0.6" stroke-opacity="0.7"/>
<circle cx="294.1" cy="643.6" r="5.1" fill="#1e9bd3" stroke="#123f6a" stroke-width="0.6" stroke-opacity="0.7"/>
<circle cx="275.8" cy="621.5" r="6.0" fill="#1e9bd3" stroke="#123f6a" stroke-width="0.6" stroke-opacity="0.7"/>
<circle cx="283.5" cy="708.0" r="6.0" fill="#1e9bd3" stroke="#123f6a" stroke-width="0.6" stroke-opacity="0.7"/>
<text x="280.4" y="725.8" font-size="13.42" text-anchor="middle" fill="#111" stroke="#111" stroke-width="0.45" textLength="95.0" lengthAdjust="spacingAndGlyphs" >Proteasome</text>
<path d="M253.0 771.8 H282.8" stroke="#1e1e1e" stroke-width="2.3"/>
<path d="M256.5 771.8 C250.0 769.3 245.0 761.0 238.5 761.5 C231.2 762.0 231.2 781.6 238.5 782.1 C245.0 782.6 250.0 774.3 256.5 771.8 Z" fill="#a9cdf0" stroke="#3f4d6e" stroke-width="1"/>
<path d="M279.3 771.8 C285.8 769.3 290.8 761.0 297.3 761.5 C304.6 762.0 304.6 781.6 297.3 782.1 C290.8 782.6 285.8 774.3 279.3 771.8 Z" fill="#7b7fcb" stroke="#33386a" stroke-width="1"/>
<path d="M253.0 801.8 H299.8" stroke="#1e1e1e" stroke-width="2.3"/>
<path d="M256.5 801.8 C250.0 799.3 245.0 791.0 238.5 791.5 C231.2 792.0 231.2 811.6 238.5 812.1 C245.0 812.6 250.0 804.3 256.5 801.8 Z" fill="#a9cdf0" stroke="#3f4d6e" stroke-width="1"/>
<path d="M296.3 801.8 C302.8 799.3 307.8 791.0 314.3 791.5 C321.6 792.0 321.6 811.6 314.3 812.1 C307.8 812.6 302.8 804.3 296.3 801.8 Z" fill="#7b7fcb" stroke="#33386a" stroke-width="1"/>
<path d="M253.0 831.8 H314.2" stroke="#1e1e1e" stroke-width="2.3"/>
<path d="M256.5 831.8 C250.0 829.3 245.0 821.0 238.5 821.5 C231.2 822.0 231.2 841.6 238.5 842.1 C245.0 842.6 250.0 834.3 256.5 831.8 Z" fill="#a9cdf0" stroke="#3f4d6e" stroke-width="1"/>
<path d="M310.7 831.8 C317.2 829.3 322.2 821.0 328.7 821.5 C336.0 822.0 336.0 841.6 328.7 842.1 C322.2 842.6 317.2 834.3 310.7 831.8 Z" fill="#7b7fcb" stroke="#33386a" stroke-width="1"/>
<rect x="303.2" y="768.3" width="2.4" height="7" fill="#777" stroke="#333" stroke-width="0.6"/>
<text x="284.8" y="864.5" font-size="14.96" text-anchor="middle" fill="#111" stroke="#111" stroke-width="0.45" textLength="143.0" lengthAdjust="spacingAndGlyphs" >PROTACs toolbox</text>
<text x="284.8" y="881.5" font-size="14.96" text-anchor="middle" fill="#111" stroke="#111" stroke-width="0.45" textLength="196.0" lengthAdjust="spacingAndGlyphs" >based on Nature product</text>
<rect x="728.8" y="180.1" width="303.20000000000005" height="196.6" fill="#fff" stroke="none"/>
<path fill="none" stroke="#d5d2cc" stroke-width="3.5" stroke-linecap="round" d="M738.5 328.8h0M787.5 332.2h0M775.8 341.7h0M794.1 341.4h0M812.1 348.2h0M816.6 329.2h0M828.6 338.5h0M835.8 337.6h0M841.7 338.5h0M834.5 326.8h0M804.5 320.0h0M829.1 320.5h0M863.6 236.7h0M862.9 253.2h0M869.5 270.6h0M882.6 272.6h0M890.2 267.0h0M896.8 258.2h0M899.5 248.2h0M898.2 278.7h0M882.1 282.8h0M879.8 286.4h0M876.3 296.3h0M883.0 295.4h0M883.0 305.3h0M857.9 263.1h0M859.6 266.7h0M861.4 273.9h0M858.8 279.2h0M861.4 281.9h0M858.8 272.1h0M883.6 305.5h0M924.5 329.4h0M931.0 328.7h0M936.0 329.4h0M940.3 331.6h0M952.5 327.3h0M931.0 338.8h0M922.4 348.8h0M913.8 333.8h0M908.7 346.7h0M867.3 348.7h0M841.6 318.6h0M858.6 324.2h0M862.0 329.5h0M858.7 320.9h0M858.7 335.3h0M866.1 356.3h0M861.0 303.8h0M862.2 302.4h0M861.5 326.0h0M858.1 342.3h0M848.3 329.3h0M869.0 345.1h0M859.6 304.2h0M862.5 346.6h0M859.2 339.6h0M873.2 357.6h0M854.9 344.7h0M855.4 343.1h0M854.0 340.0h0M867.4 337.7h0M859.1 326.2h0M867.6 352.3h0M854.8 324.8h0M857.7 291.9h0M856.0 324.0h0M861.3 294.6h0M855.0 318.6h0M872.2 353.8h0M843.8 322.7h0M866.4 352.3h0M861.1 312.3h0M847.4 332.9h0M854.6 320.2h0M848.2 318.6h0M859.1 326.6h0M867.9 332.3h0M863.3 346.0h0M849.4 337.4h0M860.9 353.0h0M853.6 342.4h0M853.5 337.4h0M855.5 325.6h0M867.4 358.5h0M851.8 342.9h0M846.2 322.3h0M854.0 319.7h0M861.7 348.4h0M863.2 318.0h0M869.6 345.4h0M861.8 349.5h0M858.7 318.0h0M857.5 324.9h0M863.5 343.8h0M869.7 350.8h0M861.4 343.1h0M864.3 318.1h0M846.8 322.4h0M859.1 333.2h0M860.2 313.4h0M860.0 329.4h0M854.7 316.9h0M861.7 342.7h0M858.1 341.1h0M843.3 317.8h0M855.4 325.1h0M857.4 342.5h0M858.0 294.1h0M854.5 331.3h0M859.8 328.8h0M873.5 355.3h0M850.5 323.0h0M862.6 322.4h0M857.6 298.0h0M858.5 321.5h0M851.0 336.2h0M856.8 319.0h0M864.8 326.7h0M873.9 355.9h0M865.1 333.2h0M861.0 329.1h0M857.2 333.8h0M870.5 350.8h0M843.9 319.4h0M858.5 297.1h0M855.5 333.6h0M848.1 323.1h0M863.5 348.0h0M866.1 333.1h0M846.2 327.9h0M863.5 353.7h0M856.0 323.5h0M861.0 310.7h0M862.7 338.0h0M862.0 329.4h0M870.6 355.0h0M845.8 317.6h0M871.3 351.9h0M849.1 316.8h0M865.6 327.4h0M855.2 329.2h0M855.3 344.5h0M863.2 352.2h0M859.5 307.0h0M854.3 342.9h0M853.1 327.2h0M862.5 339.0h0M866.8 336.1h0M868.0 345.7h0M867.2 351.4h0M854.4 339.1h0M841.2 319.4h0M857.3 305.5h0M845.6 327.9h0M854.5 325.7h0M859.9 306.4h0M862.2 331.9h0M843.7 327.0h0M867.7 346.8h0M852.5 322.4h0M855.2 326.4h0M852.0 339.4h0M847.6 337.5h0M867.0 335.2h0M862.0 306.4h0M856.0 321.7h0M858.2 310.1h0M848.2 327.3h0M848.9 336.1h0M862.9 312.8h0M862.6 312.9h0M860.7 339.0h0M840.1 317.8h0M867.3 331.0h0M853.8 334.8h0M864.4 346.8h0M849.3 338.4h0M860.0 332.1h0M846.9 335.0h0M853.8 344.5h0M866.8 332.3h0M847.3 324.6h0M862.3 347.8h0M858.6 303.7h0M856.5 338.2h0M847.6 322.0h0M855.2 328.8h0M870.3 358.6h0M866.5 331.6h0M873.5 355.0h0M859.9 311.3h0M860.4 341.0h0M848.5 330.9h0M859.2 292.6h0M860.4 300.0h0M852.1 318.5h0M858.5 337.7h0M864.0 342.0h0M867.3 349.1h0M849.6 320.0h0M854.4 326.3h0M862.7 352.2h0M862.9 331.3h0M857.2 294.8h0M853.5 317.4h0M845.4 317.4h0M870.3 356.8h0M860.2 349.9h0M869.7 346.4h0M856.9 293.2h0M845.4 324.5h0M871.3 357.6h0M869.0 358.8h0M862.7 311.7h0M869.9 350.1h0M862.1 303.6h0M860.2 344.7h0M848.1 335.8h0M850.9 326.5h0M857.5 309.7h0M844.2 327.9h0M851.8 341.9h0M855.7 334.6h0M847.6 335.5h0M865.1 325.7h0M861.0 326.0h0M857.8 306.3h0M850.9 343.4h0M865.2 344.7h0M842.5 323.8h0M857.4 339.4h0M850.7 320.5h0M856.2 327.6h0M858.4 326.3h0M867.0 344.4h0M852.9 342.6h0M851.5 341.5h0M864.2 340.8h0M859.6 294.1h0M841.6 322.3h0M845.5 320.9h0M861.3 315.1h0M862.3 308.6h0M864.3 340.0h0M857.3 292.2h0M845.6 319.3h0M861.9 308.0h0M862.7 336.1h0M856.1 345.9h0M858.8 296.2h0M850.4 317.1h0M846.3 324.4h0M849.3 322.9h0M846.8 319.2h0M861.7 328.3h0M856.9 322.4h0M847.7 329.8h0M871.6 343.3h0M858.6 332.9h0M849.7 318.7h0M860.8 306.2h0M853.1 335.0h0M855.4 333.2h0M855.9 347.5h0M861.4 337.5h0M872.5 347.0h0M853.0 329.0h0M863.6 326.9h0M864.6 323.2h0M843.2 325.1h0M862.3 307.4h0M862.3 312.6h0M867.5 347.3h0M856.2 319.1h0M861.9 333.1h0M867.0 345.4h0M860.4 306.0h0M861.1 319.0h0M858.8 317.4h0M871.3 358.4h0M855.1 323.4h0M865.8 348.0h0M844.4 317.1h0M858.2 342.9h0M861.4 327.8h0M858.5 309.0h0M842.1 323.3h0M852.7 318.7h0M859.8 333.1h0M868.4 358.7h0M845.5 325.6h0M854.5 346.0h0M865.4 340.8h0M866.9 343.1h0M861.8 307.3h0M856.5 305.7h0M859.8 346.1h0M847.8 334.1h0M863.4 327.8h0M860.8 302.3h0M847.2 319.8h0M841.8 318.2h0M861.9 302.3h0M858.9 316.2h0M859.3 304.7h0M868.1 333.5h0M853.6 329.3h0M861.2 321.3h0M860.2 319.0h0M857.5 329.6h0M858.6 320.9h0M857.2 331.1h0M867.4 334.9h0M871.4 347.3h0M865.7 325.4h0M868.6 339.2h0M851.5 327.1h0M865.2 323.9h0M868.0 343.3h0M868.4 347.7h0M868.9 340.3h0M858.7 309.3h0M857.6 338.0h0M861.4 322.3h0M911.8 332.7h0M894.5 303.8h0M893.1 318.6h0M896.5 347.4h0M896.0 322.0h0M894.1 339.3h0M890.9 330.6h0M892.3 351.1h0M892.4 349.8h0M903.9 321.9h0M905.9 332.1h0M897.2 294.5h0M896.3 309.7h0M892.6 338.7h0M903.8 307.2h0M896.1 299.3h0M896.3 313.9h0M901.4 328.2h0M886.8 352.8h0M895.0 340.6h0M903.7 314.1h0M897.8 315.3h0M897.7 312.1h0M903.8 332.4h0M908.4 335.5h0M895.8 336.0h0M888.8 335.5h0M902.3 342.0h0M891.4 346.8h0M905.5 344.4h0M899.8 327.4h0M887.2 345.3h0M892.8 325.5h0M899.1 310.6h0M896.1 293.8h0M900.4 322.2h0M895.9 332.9h0M888.4 347.3h0M905.6 339.9h0M892.8 357.7h0M902.9 349.4h0M887.2 354.4h0M893.6 324.3h0M911.9 329.8h0M898.7 353.3h0M895.6 311.0h0M894.8 320.1h0M898.0 315.1h0M896.6 321.6h0M885.4 348.5h0M900.1 318.0h0M894.9 312.0h0M898.2 306.1h0M906.1 324.1h0M894.7 331.9h0M894.8 311.1h0M901.9 331.3h0M893.2 324.9h0M899.2 342.8h0M907.5 319.8h0M892.4 337.6h0M886.4 358.9h0M893.3 347.4h0M907.2 335.0h0M902.8 291.6h0M901.1 290.4h0M905.7 319.3h0M907.0 320.9h0M897.1 320.6h0M887.3 348.4h0M903.6 328.4h0M893.1 356.8h0M899.8 348.8h0M887.5 351.2h0M897.9 292.2h0M896.7 316.5h0M898.5 338.3h0M895.4 344.5h0M887.0 342.0h0M901.4 326.4h0M895.4 330.2h0M901.2 323.7h0M891.6 341.2h0M900.9 308.0h0M885.8 347.8h0M895.1 340.2h0M896.7 333.3h0M910.8 321.9h0M898.3 306.2h0M893.0 349.4h0M900.7 328.6h0M893.8 300.6h0M902.0 298.5h0M906.5 330.8h0M892.5 350.1h0M899.8 307.8h0M892.1 325.7h0M901.9 328.1h0M905.6 327.4h0M885.5 355.6h0M894.6 345.1h0M894.9 341.1h0M911.8 325.4h0M900.7 314.4h0M890.8 356.5h0M887.2 355.9h0M900.6 298.4h0M899.3 295.4h0M899.5 302.9h0M899.5 314.8h0M898.7 303.8h0M904.8 319.2h0M898.3 295.5h0M898.3 329.1h0M912.7 329.3h0M893.8 339.2h0M901.4 338.0h0M902.0 332.9h0M908.5 338.2h0M899.3 330.6h0M906.3 346.6h0M893.8 314.3h0M891.7 331.0h0M899.5 313.5h0M903.9 321.9h0M890.8 351.8h0M891.4 323.6h0M890.9 335.8h0M891.6 326.6h0M891.4 351.4h0M892.8 313.1h0M905.4 337.2h0M907.3 327.8h0M894.9 315.0h0M895.4 299.5h0M907.3 344.8h0M893.9 345.4h0M895.1 310.1h0M901.5 341.9h0M898.0 347.3h0M895.2 294.6h0M890.0 351.5h0M894.0 355.2h0M888.1 340.0h0M910.0 340.9h0M894.9 298.4h0M892.0 355.8h0M894.2 293.5h0M893.0 302.8h0M899.9 329.8h0M906.5 326.9h0M893.1 343.3h0M911.3 325.3h0M900.7 310.6h0M897.5 332.2h0M908.9 322.6h0M889.5 356.1h0M906.5 318.1h0M889.0 341.6h0M890.4 346.0h0M898.7 335.7h0M897.7 302.8h0M902.2 315.9h0M897.9 333.7h0M893.3 315.0h0M910.1 330.7h0M896.2 327.8h0M897.5 313.3h0M901.2 301.1h0M894.2 329.2h0M898.6 354.6h0M899.1 316.6h0M891.9 330.2h0M902.6 322.4h0M898.2 334.9h0M897.0 295.9h0M891.4 353.2h0M898.8 319.9h0M898.4 323.8h0M892.5 348.9h0M898.8 314.0h0M904.2 345.9h0M905.0 346.7h0M891.1 354.4h0M894.1 345.5h0M911.5 335.1h0M887.1 358.8h0M889.4 338.6h0M902.3 298.8h0M902.8 324.5h0M895.3 314.8h0M903.2 344.3h0M904.5 326.1h0M893.2 309.1h0M889.4 335.4h0M893.7 354.9h0M912.1 333.4h0M893.8 309.6h0M899.4 324.2h0M884.9 350.4h0M899.7 323.1h0M889.8 330.7h0M894.4 326.9h0M912.0 334.8h0M896.2 318.5h0M890.9 323.2h0M896.7 338.0h0M906.5 328.9h0M899.5 303.3h0M892.0 340.4h0M906.6 335.4h0M904.8 322.0h0M896.7 297.5h0M904.5 320.7h0M900.9 342.1h0M895.8 335.5h0M904.1 333.1h0M897.9 291.2h0M897.8 297.4h0M898.3 331.2h0M890.4 350.6h0M899.0 318.8h0M895.7 352.1h0M891.5 345.4h0M904.9 321.4h0M894.7 320.6h0M897.3 312.1h0M902.4 318.8h0M892.9 344.1h0M897.4 323.2h0M909.9 321.9h0M895.0 352.9h0M895.8 337.0h0M903.3 336.8h0M896.8 335.8h0M890.6 344.0h0M894.0 339.8h0M902.1 305.5h0M889.7 353.9h0M895.5 331.4h0M905.0 343.4h0M906.0 330.6h0M891.3 339.4h0M900.5 328.1h0M892.0 329.7h0M899.5 324.7h0M910.4 336.5h0M892.5 346.5h0M896.3 300.2h0M901.8 322.3h0M894.3 343.2h0M904.4 338.3h0M899.8 291.7h0M895.0 336.0h0M907.4 341.8h0M891.7 324.3h0M890.1 339.3h0M897.9 312.0h0M897.0 346.9h0M900.8 332.7h0M890.5 333.4h0M888.3 357.5h0M894.0 320.8h0M896.7 348.0h0M911.0 337.4h0M890.7 340.3h0M885.7 348.9h0M900.0 330.9h0M901.7 350.4h0M903.6 338.7h0M893.4 322.7h0M892.4 329.3h0M894.4 315.2h0M893.1 331.5h0M908.9 322.9h0M899.0 311.9h0M902.3 336.2h0M904.4 325.1h0M896.1 317.3h0M898.8 322.8h0M899.6 327.3h0M907.5 333.5h0M904.1 338.4h0M905.9 321.8h0M895.7 328.7h0M912.7 328.1h0M899.1 311.7h0M909.4 326.2h0M902.8 297.8h0M896.8 343.4h0M901.4 330.8h0M910.6 337.2h0M900.0 313.6h0M901.0 334.2h0M903.3 305.0h0M893.8 357.1h0M900.4 297.1h0M902.8 308.4h0M908.0 340.7h0M893.4 308.2h0M902.7 333.1h0M900.6 316.8h0M911.1 337.2h0M908.9 339.1h0M902.5 316.8h0M905.1 324.6h0M895.3 327.2h0M893.7 300.4h0M898.7 343.6h0M900.6 306.7h0M889.5 340.8h0M886.2 350.6h0M897.7 349.1h0M902.2 342.2h0M906.4 340.6h0M885.4 347.8h0M909.0 332.1h0M889.8 334.9h0M899.8 316.3h0M898.9 317.2h0M897.9 292.8h0M902.1 303.6h0M910.2 331.2h0M895.5 328.0h0M895.2 339.6h0M894.9 339.5h0M906.1 344.9h0M887.2 358.6h0M894.6 332.4h0M901.0 352.3h0M900.6 299.2h0M902.5 309.6h0M893.5 332.5h0M900.4 313.8h0M902.8 294.6h0M898.2 340.6h0M896.4 312.3h0M895.7 311.9h0M905.9 322.4h0M889.9 333.2h0M896.2 302.8h0M905.5 330.1h0M908.3 337.9h0M900.1 350.0h0M894.9 297.9h0M899.6 299.0h0M901.8 347.7h0M894.1 298.4h0M903.8 341.0h0M910.1 328.8h0M901.1 350.4h0M892.4 344.2h0M902.6 322.8h0M891.7 332.1h0M899.0 325.8h0M901.9 337.8h0M892.5 321.9h0M898.9 346.3h0M895.6 354.5h0M859.8 278.6h0M859.9 288.2h0M860.2 289.7h0M861.7 283.5h0M860.3 289.8h0M901.9 282.8h0M900.1 280.4h0M895.0 286.5h0M899.7 284.9h0M901.4 284.8h0M897.8 285.5h0M897.5 281.2h0M897.4 285.5h0M897.2 280.2h0M902.1 288.2h0"/>
<path fill="none" stroke="#d5d2cc" stroke-width="3.5" stroke-linecap="round" d="M769.6 217.4h0M841.7 228.2h0M826.3 233.3h0M847.8 238.4h0M821.7 244.8h0M803.3 246.4h0M766.0 250.7h0M823.7 253.6h0M830.2 253.3h0M839.9 255.3h0M817.2 261.8h0M830.2 262.6h0M795.1 263.5h0M854.3 262.2h0M778.9 266.4h0M842.1 266.1h0M845.0 269.0h0M839.2 269.7h0M852.9 270.8h0M842.8 273.3h0M846.4 274.7h0M811.5 278.0h0M829.4 277.7h0M818.1 281.2h0M824.6 280.4h0M837.1 278.3h0M840.6 279.7h0M850.0 279.0h0M854.3 280.4h0M837.8 282.6h0M845.0 284.0h0M832.7 286.9h0M827.0 287.2h0M824.8 289.8h0M811.9 290.2h0M815.9 289.5h0M761.2 293.8h0M781.5 299.4h0M797.6 299.4h0M815.9 298.8h0M818.1 306.6h0M824.6 307.0h0M832.7 309.2h0M813.4 311.8h0M790.8 312.8h0M796.8 314.9h0M825.1 315.6h0M843.7 305.1h0M855.9 302.5h0M845.2 305.8h0M836.8 303.8h0M848.3 311.4h0M834.5 298.1h0M850.0 290.9h0M848.9 306.6h0M836.9 296.4h0M843.4 312.8h0M845.4 307.3h0M844.9 307.9h0M843.9 297.4h0M853.8 309.1h0M840.2 296.0h0M851.8 300.7h0M853.9 300.3h0M855.6 302.6h0M852.2 297.1h0M834.3 298.9h0M835.1 296.5h0M852.6 294.6h0M846.5 302.0h0M835.0 301.3h0M837.5 297.1h0M839.9 313.9h0M837.5 300.5h0M854.1 307.3h0M837.5 296.8h0M852.0 298.8h0M838.3 306.2h0M841.6 302.2h0M856.8 303.0h0M846.9 313.4h0M836.8 294.0h0M838.5 295.0h0M851.1 315.4h0M854.8 306.3h0M838.2 309.0h0M838.7 312.3h0M847.4 297.8h0M833.8 296.0h0M846.5 313.0h0M847.9 297.4h0M855.7 295.3h0M832.5 297.1h0M836.6 299.8h0M846.8 293.4h0M841.4 314.1h0M849.9 305.7h0M850.2 316.1h0M844.5 309.7h0M851.1 314.3h0M851.1 309.0h0M852.5 314.8h0M841.1 308.5h0M842.8 311.4h0M854.4 305.4h0M848.2 300.2h0M847.1 306.4h0M850.9 300.4h0M851.0 305.6h0M843.4 312.7h0M844.5 296.1h0M850.1 303.4h0M847.9 314.9h0M839.8 308.3h0M837.3 294.4h0M855.4 307.8h0M843.5 314.1h0M840.5 308.0h0M837.2 301.5h0M852.9 314.7h0M854.8 300.3h0M847.1 298.4h0M844.1 301.7h0M851.3 309.0h0M833.5 299.4h0M851.5 291.7h0M852.3 302.4h0M844.0 313.9h0M852.8 292.0h0M838.5 300.3h0M845.6 316.4h0M856.4 303.9h0M852.4 311.9h0M840.7 305.7h0M843.1 303.7h0M854.6 301.1h0M843.4 296.7h0M840.5 294.9h0M856.2 300.1h0M840.3 304.1h0M840.8 301.4h0M853.9 291.1h0M834.8 303.5h0M848.2 296.8h0M847.8 309.8h0M842.8 293.0h0M841.1 293.6h0M854.5 298.6h0M851.5 308.1h0M847.6 308.8h0M855.1 295.0h0M841.4 313.8h0M835.8 298.3h0M850.2 307.9h0M850.4 315.5h0M844.4 299.9h0M847.8 298.1h0M843.0 315.0h0M847.8 315.1h0M836.2 295.7h0M849.0 313.4h0M850.1 300.1h0M848.2 301.6h0M834.2 297.5h0M840.3 305.0h0M840.4 309.4h0M852.6 305.3h0M839.2 300.9h0M846.0 307.9h0M836.1 308.7h0M845.6 311.5h0M845.0 313.3h0M843.3 303.8h0M838.5 296.5h0M836.4 305.7h0M839.2 298.6h0M849.5 295.0h0M848.7 312.9h0M849.7 291.1h0M836.2 306.9h0M855.9 308.3h0M855.3 295.3h0M856.2 302.0h0M854.2 308.2h0M856.2 313.0h0M846.0 293.8h0M854.4 306.5h0M842.5 294.7h0M842.8 310.7h0M846.1 294.3h0M849.1 314.7h0M852.2 304.3h0M852.2 301.9h0M834.8 297.4h0M851.1 295.5h0M841.9 311.2h0M840.2 306.3h0M842.2 310.8h0M854.6 293.2h0M836.3 309.7h0M853.4 302.5h0M853.3 292.5h0M840.2 300.5h0M838.8 311.5h0M839.8 307.6h0M847.8 305.0h0M848.9 310.6h0M850.2 295.3h0M842.2 307.5h0M855.5 306.7h0M847.8 313.3h0M841.6 314.0h0M839.5 304.1h0M848.5 295.0h0M840.2 308.2h0M847.6 300.6h0M846.0 316.6h0M854.2 293.8h0M849.0 306.5h0M834.4 300.4h0M855.2 299.4h0M838.8 304.2h0M849.5 316.7h0M844.8 313.9h0M844.3 301.0h0M842.6 296.4h0M848.9 315.2h0M846.2 307.5h0M845.5 314.9h0M840.7 305.8h0M849.0 306.6h0M848.0 309.8h0M842.5 307.2h0M846.1 302.3h0M853.9 298.7h0M846.3 291.9h0M848.1 311.4h0M839.9 297.4h0M852.9 298.3h0M846.1 291.3h0M856.1 299.9h0M847.8 308.0h0M836.0 302.6h0M837.6 295.2h0M848.8 315.5h0M847.3 309.3h0M837.1 299.9h0M849.4 312.2h0M840.3 314.7h0M848.6 305.9h0M854.0 292.2h0M853.0 306.2h0M847.8 297.0h0M837.6 302.6h0M850.5 291.1h0M846.7 311.8h0M840.2 298.9h0M838.1 298.0h0M847.5 275.6h0M847.4 274.1h0M844.9 264.1h0M853.4 266.7h0M837.3 276.5h0M851.1 288.7h0M846.3 271.9h0M836.8 266.2h0M834.7 285.5h0M839.2 277.3h0M851.2 263.1h0M837.1 289.3h0M852.6 278.2h0M851.1 278.2h0M839.1 284.4h0M835.0 294.5h0M842.5 287.3h0M837.0 280.9h0M840.3 281.1h0M842.4 267.3h0M855.4 288.6h0M843.0 276.4h0M854.0 287.4h0"/>
<path fill="none" stroke="#e6372b" stroke-width="3.9" stroke-linecap="round" d="M917.3 198.0h0M974.8 208.8h0M908.4 218.4h0M918.5 218.1h0M946.1 221.4h0M907.3 226.3h0M905.6 227.7h0M918.5 228.0h0M997.8 233.8h0M943.9 239.9h0M910.4 244.8h0M923.5 247.6h0M927.4 247.7h0M943.9 249.4h0M914.0 254.7h0M910.9 256.8h0M923.5 256.6h0M932.4 260.5h0M923.5 260.8h0M913.8 264.4h0M935.7 265.1h0M962.3 264.2h0M943.2 267.4h0M949.4 266.8h0M1015.4 266.4h0M910.2 270.1h0M916.9 269.4h0M996.8 270.5h0M935.3 271.7h0M937.5 274.1h0M923.1 276.6h0M929.8 276.0h0M939.6 277.0h0M907.7 278.6h0M916.6 279.9h0M926.2 280.9h0M952.7 281.0h0M964.3 281.5h0M997.1 280.7h0M913.3 283.5h0M941.0 285.2h0M907.3 289.2h0M910.2 288.5h0M917.3 288.5h0M930.3 289.5h0M905.9 292.1h0M914.5 292.1h0M938.6 291.7h0M908.0 295.0h0M915.9 294.2h0M926.0 295.0h0M910.9 297.1h0M913.8 297.8h0M921.7 297.1h0M930.0 300.0h0M906.6 302.9h0M913.0 301.4h0M915.9 302.1h0M974.8 303.6h0M994.9 305.6h0M909.4 306.4h0M912.3 305.7h0M920.9 307.2h0M932.4 307.6h0M908.7 310.0h0M910.9 309.3h0M907.3 312.9h0M909.4 312.2h0M938.9 312.9h0M971.6 313.1h0M908.7 293.5h0M911.9 299.3h0M914.5 295.7h0M910.4 304.3h0M912.7 307.9h0M908.2 300.0h0M917.6 296.4h0M923.1 297.8h0M915.2 304.3h0M909.9 314.3h0"/>
<circle cx="922.8" cy="191.8" r="3.2" fill="#e6372b"/>
<path d="M856.5 180.1 V376.7 M904.3 180.1 V376.7 M728.8 316.8 H1032.0" stroke="#444" stroke-width="1.3" stroke-dasharray="2.2 1.6" fill="none"/>
<rect x="728.8" y="180.1" width="303.20000000000005" height="196.6" fill="none" stroke="#333" stroke-width="2"/>
<path d="M721.5999999999999 363.3 H728.8" stroke="#333" stroke-width="1.7"/>
<text x="720.8" y="366.9" font-size="10.78" text-anchor="end" fill="#1c1c1c" stroke="#1c1c1c" stroke-width="0.25" >0</text>
<path d="M721.5999999999999 329.2 H728.8" stroke="#333" stroke-width="1.7"/>
<text x="720.8" y="332.9" font-size="10.78" text-anchor="end" fill="#1c1c1c" stroke="#1c1c1c" stroke-width="0.25" >1</text>
<path d="M721.5999999999999 295.2 H728.8" stroke="#333" stroke-width="1.7"/>
<text x="720.8" y="298.8" font-size="10.78" text-anchor="end" fill="#1c1c1c" stroke="#1c1c1c" stroke-width="0.25" >2</text>
<path d="M721.5999999999999 261.2 H728.8" stroke="#333" stroke-width="1.7"/>
<text x="720.8" y="264.8" font-size="10.78" text-anchor="end" fill="#1c1c1c" stroke="#1c1c1c" stroke-width="0.25" >3</text>
<path d="M721.5999999999999 227.1 H728.8" stroke="#333" stroke-width="1.7"/>
<text x="720.8" y="230.7" font-size="10.78" text-anchor="end" fill="#1c1c1c" stroke="#1c1c1c" stroke-width="0.25" >4</text>
<path d="M721.5999999999999 193.1 H728.8" stroke="#333" stroke-width="1.7"/>
<text x="720.8" y="196.7" font-size="10.78" text-anchor="end" fill="#1c1c1c" stroke="#1c1c1c" stroke-width="0.25" >5</text>
<path d="M771.7 376.7 V382.2" stroke="#333" stroke-width="1.6"/>
<text x="775.3" y="394.0" font-size="10.78" text-anchor="middle" fill="#1c1c1c" stroke="#1c1c1c" stroke-width="0.25" >-2</text>
<path d="M826.1 376.7 V382.2" stroke="#333" stroke-width="1.6"/>
<text x="829.7" y="394.0" font-size="10.78" text-anchor="middle" fill="#1c1c1c" stroke="#1c1c1c" stroke-width="0.25" >-1</text>
<path d="M880.5 376.7 V382.2" stroke="#333" stroke-width="1.6"/>
<text x="884.1" y="394.0" font-size="10.78" text-anchor="middle" fill="#1c1c1c" stroke="#1c1c1c" stroke-width="0.25" >0</text>
<path d="M934.9 376.7 V382.2" stroke="#333" stroke-width="1.6"/>
<text x="938.5" y="394.0" font-size="10.78" text-anchor="middle" fill="#1c1c1c" stroke="#1c1c1c" stroke-width="0.25" >1</text>
<path d="M989.3 376.7 V382.2" stroke="#333" stroke-width="1.6"/>
<text x="992.9" y="394.0" font-size="10.78" text-anchor="middle" fill="#1c1c1c" stroke="#1c1c1c" stroke-width="0.25" >2</text>
<text x="879.5" y="172.6" font-size="12.98" text-anchor="middle" fill="#1c1c1c" stroke="#1c1c1c" stroke-width="0.25" textLength="84.0" lengthAdjust="spacingAndGlyphs" >Volcano plot</text>
<text x="883.5" y="407.7" font-size="11.88" text-anchor="middle" fill="#1c1c1c" stroke="#1c1c1c" stroke-width="0.25" textLength="136.0" lengthAdjust="spacingAndGlyphs" >log2 FC(Probe/Control)</text>
<text transform="translate(699.6 276.9) rotate(-90)" font-size="10.34" text-anchor="middle" fill="#1c1c1c" stroke="#1c1c1c" stroke-width="0.25" textLength="90" lengthAdjust="spacingAndGlyphs">-log10(p-value)</text>
<text x="930.5" y="195.3" font-size="12.98" text-anchor="start" fill="#1c1c1c" stroke="#1c1c1c" stroke-width="0.25" textLength="97.0" lengthAdjust="spacingAndGlyphs" >Potential targets</text>
<rect x="728.8" y="632.4" width="303.20000000000005" height="196.60000000000002" fill="#fff" stroke="none"/>
<path fill="none" stroke="#d5d2cc" stroke-width="3.5" stroke-linecap="round" d="M738.5 781.1h0M787.5 784.5h0M775.8 794.0h0M794.1 793.7h0M812.1 800.5h0M816.6 781.5h0M828.6 790.8h0M835.8 789.9h0M841.7 790.8h0M834.5 779.1h0M804.5 772.3h0M829.1 772.8h0M863.6 689.0h0M862.9 705.5h0M869.5 722.9h0M882.6 724.9h0M890.2 719.3h0M896.8 710.5h0M899.5 700.5h0M898.2 731.0h0M882.1 735.1h0M879.8 738.7h0M876.3 748.6h0M883.0 747.7h0M883.0 757.6h0M857.9 715.4h0M859.6 719.0h0M861.4 726.2h0M858.8 731.5h0M861.4 734.2h0M858.8 724.4h0M883.6 757.8h0M924.5 781.7h0M931.0 781.0h0M936.0 781.7h0M940.3 783.9h0M952.5 779.6h0M931.0 791.1h0M922.4 801.1h0M913.8 786.1h0M908.7 799.0h0M867.3 801.0h0M841.6 770.9h0M858.6 776.5h0M862.0 781.8h0M858.7 773.2h0M858.7 787.6h0M866.1 808.6h0M861.0 756.1h0M862.2 754.7h0M861.5 778.3h0M858.1 794.6h0M848.3 781.6h0M869.0 797.4h0M859.6 756.5h0M862.5 798.9h0M859.2 791.9h0M873.2 809.9h0M854.9 797.0h0M855.4 795.4h0M854.0 792.3h0M867.4 790.0h0M859.1 778.5h0M867.6 804.6h0M854.8 777.1h0M857.7 744.2h0M856.0 776.3h0M861.3 746.9h0M855.0 770.9h0M872.2 806.1h0M843.8 775.0h0M866.4 804.6h0M861.1 764.6h0M847.4 785.2h0M854.6 772.5h0M848.2 770.9h0M859.1 778.9h0M867.9 784.6h0M863.3 798.3h0M849.4 789.7h0M860.9 805.3h0M853.6 794.7h0M853.5 789.7h0M855.5 777.9h0M867.4 810.8h0M851.8 795.2h0M846.2 774.6h0M854.0 772.0h0M861.7 800.7h0M863.2 770.3h0M869.6 797.7h0M861.8 801.8h0M858.7 770.3h0M857.5 777.2h0M863.5 796.1h0M869.7 803.1h0M861.4 795.4h0M864.3 770.4h0M846.8 774.7h0M859.1 785.5h0M860.2 765.7h0M860.0 781.7h0M854.7 769.2h0M861.7 795.0h0M858.1 793.4h0M843.3 770.1h0M855.4 777.4h0M857.4 794.8h0M858.0 746.4h0M854.5 783.6h0M859.8 781.1h0M873.5 807.6h0M850.5 775.3h0M862.6 774.7h0M857.6 750.3h0M858.5 773.8h0M851.0 788.5h0M856.8 771.3h0M864.8 779.0h0M873.9 808.2h0M865.1 785.5h0M861.0 781.4h0M857.2 786.1h0M870.5 803.1h0M843.9 771.7h0M858.5 749.4h0M855.5 785.9h0M848.1 775.4h0M863.5 800.3h0M866.1 785.4h0M846.2 780.2h0M863.5 806.0h0M856.0 775.8h0M861.0 763.0h0M862.7 790.3h0M862.0 781.7h0M870.6 807.3h0M845.8 769.9h0M871.3 804.2h0M849.1 769.1h0M865.6 779.7h0M855.2 781.5h0M855.3 796.8h0M863.2 804.5h0M859.5 759.3h0M854.3 795.2h0M853.1 779.5h0M862.5 791.3h0M866.8 788.4h0M868.0 798.0h0M867.2 803.7h0M854.4 791.4h0M841.2 771.7h0M857.3 757.8h0M845.6 780.2h0M854.5 778.0h0M859.9 758.7h0M862.2 784.2h0M843.7 779.3h0M867.7 799.1h0M852.5 774.7h0M855.2 778.7h0M852.0 791.7h0M847.6 789.8h0M867.0 787.5h0M862.0 758.7h0M856.0 774.0h0M858.2 762.4h0M848.2 779.6h0M848.9 788.4h0M862.9 765.1h0M862.6 765.2h0M860.7 791.3h0M840.1 770.1h0M867.3 783.3h0M853.8 787.1h0M864.4 799.1h0M849.3 790.7h0M860.0 784.4h0M846.9 787.3h0M853.8 796.8h0M866.8 784.6h0M847.3 776.9h0M862.3 800.1h0M858.6 756.0h0M856.5 790.5h0M847.6 774.3h0M855.2 781.1h0M870.3 810.9h0M866.5 783.9h0M873.5 807.3h0M859.9 763.6h0M860.4 793.3h0M848.5 783.2h0M859.2 744.9h0M860.4 752.3h0M852.1 770.8h0M858.5 790.0h0M864.0 794.3h0M867.3 801.4h0M849.6 772.3h0M854.4 778.6h0M862.7 804.5h0M862.9 783.6h0M857.2 747.1h0M853.5 769.7h0M845.4 769.7h0M870.3 809.1h0M860.2 802.2h0M869.7 798.7h0M856.9 745.5h0M845.4 776.8h0M871.3 809.9h0M869.0 811.1h0M862.7 764.0h0M869.9 802.4h0M862.1 755.9h0M860.2 797.0h0M848.1 788.1h0M850.9 778.8h0M857.5 762.0h0M844.2 780.2h0M851.8 794.2h0M855.7 786.9h0M847.6 787.8h0M865.1 778.0h0M861.0 778.3h0M857.8 758.6h0M850.9 795.7h0M865.2 797.0h0M842.5 776.1h0M857.4 791.7h0M850.7 772.8h0M856.2 779.9h0M858.4 778.6h0M867.0 796.7h0M852.9 794.9h0M851.5 793.8h0M864.2 793.1h0M859.6 746.4h0M841.6 774.6h0M845.5 773.2h0M861.3 767.4h0M862.3 760.9h0M864.3 792.3h0M857.3 744.5h0M845.6 771.6h0M861.9 760.3h0M862.7 788.4h0M856.1 798.2h0M858.8 748.5h0M850.4 769.4h0M846.3 776.7h0M849.3 775.2h0M846.8 771.5h0M861.7 780.6h0M856.9 774.7h0M847.7 782.1h0M871.6 795.6h0M858.6 785.2h0M849.7 771.0h0M860.8 758.5h0M853.1 787.3h0M855.4 785.5h0M855.9 799.8h0M861.4 789.8h0M872.5 799.3h0M853.0 781.3h0M863.6 779.2h0M864.6 775.5h0M843.2 777.4h0M862.3 759.7h0M862.3 764.9h0M867.5 799.6h0M856.2 771.4h0M861.9 785.4h0M867.0 797.7h0M860.4 758.3h0M861.1 771.3h0M858.8 769.7h0M871.3 810.7h0M855.1 775.7h0M865.8 800.3h0M844.4 769.4h0M858.2 795.2h0M861.4 780.1h0M858.5 761.3h0M842.1 775.6h0M852.7 771.0h0M859.8 785.4h0M868.4 811.0h0M845.5 777.9h0M854.5 798.3h0M865.4 793.1h0M866.9 795.4h0M861.8 759.6h0M856.5 758.0h0M859.8 798.4h0M847.8 786.4h0M863.4 780.1h0M860.8 754.6h0M847.2 772.1h0M841.8 770.5h0M861.9 754.6h0M858.9 768.5h0M859.3 757.0h0M868.1 785.8h0M853.6 781.6h0M861.2 773.6h0M860.2 771.3h0M857.5 781.9h0M858.6 773.2h0M857.2 783.4h0M867.4 787.2h0M871.4 799.6h0M865.7 777.7h0M868.6 791.5h0M851.5 779.4h0M865.2 776.2h0M868.0 795.6h0M868.4 800.0h0M868.9 792.6h0M858.7 761.6h0M857.6 790.3h0M861.4 774.6h0M911.8 785.0h0M894.5 756.1h0M893.1 770.9h0M896.5 799.7h0M896.0 774.3h0M894.1 791.6h0M890.9 782.9h0M892.3 803.4h0M892.4 802.1h0M903.9 774.2h0M905.9 784.4h0M897.2 746.8h0M896.3 762.0h0M892.6 791.0h0M903.8 759.5h0M896.1 751.6h0M896.3 766.2h0M901.4 780.5h0M886.8 805.1h0M895.0 792.9h0M903.7 766.4h0M897.8 767.6h0M897.7 764.4h0M903.8 784.7h0M908.4 787.8h0M895.8 788.3h0M888.8 787.8h0M902.3 794.3h0M891.4 799.1h0M905.5 796.7h0M899.8 779.7h0M887.2 797.6h0M892.8 777.8h0M899.1 762.9h0M896.1 746.1h0M900.4 774.5h0M895.9 785.2h0M888.4 799.6h0M905.6 792.2h0M892.8 810.0h0M902.9 801.7h0M887.2 806.7h0M893.6 776.6h0M911.9 782.1h0M898.7 805.6h0M895.6 763.3h0M894.8 772.4h0M898.0 767.4h0M896.6 773.9h0M885.4 800.8h0M900.1 770.3h0M894.9 764.3h0M898.2 758.4h0M906.1 776.4h0M894.7 784.2h0M894.8 763.4h0M901.9 783.6h0M893.2 777.2h0M899.2 795.1h0M907.5 772.1h0M892.4 789.9h0M886.4 811.2h0M893.3 799.7h0M907.2 787.3h0M902.8 743.9h0M901.1 742.7h0M905.7 771.6h0M907.0 773.2h0M897.1 772.9h0M887.3 800.7h0M903.6 780.7h0M893.1 809.1h0M899.8 801.1h0M887.5 803.5h0M897.9 744.5h0M896.7 768.8h0M898.5 790.6h0M895.4 796.8h0M887.0 794.3h0M901.4 778.7h0M895.4 782.5h0M901.2 776.0h0M891.6 793.5h0M900.9 760.3h0M885.8 800.1h0M895.1 792.5h0M896.7 785.6h0M910.8 774.2h0M898.3 758.5h0M893.0 801.7h0M900.7 780.9h0M893.8 752.9h0M902.0 750.8h0M906.5 783.1h0M892.5 802.4h0M899.8 760.1h0M892.1 778.0h0M901.9 780.4h0M905.6 779.7h0M885.5 807.9h0M894.6 797.4h0M894.9 793.4h0M911.8 777.7h0M900.7 766.7h0M890.8 808.8h0M887.2 808.2h0M900.6 750.7h0M899.3 747.7h0M899.5 755.2h0M899.5 767.1h0M898.7 756.1h0M904.8 771.5h0M898.3 747.8h0M898.3 781.4h0M912.7 781.6h0M893.8 791.5h0M901.4 790.3h0M902.0 785.2h0M908.5 790.5h0M899.3 782.9h0M906.3 798.9h0M893.8 766.6h0M891.7 783.3h0M899.5 765.8h0M903.9 774.2h0M890.8 804.1h0M891.4 775.9h0M890.9 788.1h0M891.6 778.9h0M891.4 803.7h0M892.8 765.4h0M905.4 789.5h0M907.3 780.1h0M894.9 767.3h0M895.4 751.8h0M907.3 797.1h0M893.9 797.7h0M895.1 762.4h0M901.5 794.2h0M898.0 799.6h0M895.2 746.9h0M890.0 803.8h0M894.0 807.5h0M888.1 792.3h0M910.0 793.2h0M894.9 750.7h0M892.0 808.1h0M894.2 745.8h0M893.0 755.1h0M899.9 782.1h0M906.5 779.2h0M893.1 795.6h0M911.3 777.6h0M900.7 762.9h0M897.5 784.5h0M908.9 774.9h0M889.5 808.4h0M906.5 770.4h0M889.0 793.9h0M890.4 798.3h0M898.7 788.0h0M897.7 755.1h0M902.2 768.2h0M897.9 786.0h0M893.3 767.3h0M910.1 783.0h0M896.2 780.1h0M897.5 765.6h0M901.2 753.4h0M894.2 781.5h0M898.6 806.9h0M899.1 768.9h0M891.9 782.5h0M902.6 774.7h0M898.2 787.2h0M897.0 748.2h0M891.4 805.5h0M898.8 772.2h0M898.4 776.1h0M892.5 801.2h0M898.8 766.3h0M904.2 798.2h0M905.0 799.0h0M891.1 806.7h0M894.1 797.8h0M911.5 787.4h0M887.1 811.1h0M889.4 790.9h0M902.3 751.1h0M902.8 776.8h0M895.3 767.1h0M903.2 796.6h0M904.5 778.4h0M893.2 761.4h0M889.4 787.7h0M893.7 807.2h0M912.1 785.7h0M893.8 761.9h0M899.4 776.5h0M884.9 802.7h0M899.7 775.4h0M889.8 783.0h0M894.4 779.2h0M912.0 787.1h0M896.2 770.8h0M890.9 775.5h0M896.7 790.3h0M906.5 781.2h0M899.5 755.6h0M892.0 792.7h0M906.6 787.7h0M904.8 774.3h0M896.7 749.8h0M904.5 773.0h0M900.9 794.4h0M895.8 787.8h0M904.1 785.4h0M897.9 743.5h0M897.8 749.7h0M898.3 783.5h0M890.4 802.9h0M899.0 771.1h0M895.7 804.4h0M891.5 797.7h0M904.9 773.7h0M894.7 772.9h0M897.3 764.4h0M902.4 771.1h0M892.9 796.4h0M897.4 775.5h0M909.9 774.2h0M895.0 805.2h0M895.8 789.3h0M903.3 789.1h0M896.8 788.1h0M890.6 796.3h0M894.0 792.1h0M902.1 757.8h0M889.7 806.2h0M895.5 783.7h0M905.0 795.7h0M906.0 782.9h0M891.3 791.7h0M900.5 780.4h0M892.0 782.0h0M899.5 777.0h0M910.4 788.8h0M892.5 798.8h0M896.3 752.5h0M901.8 774.6h0M894.3 795.5h0M904.4 790.6h0M899.8 744.0h0M895.0 788.3h0M907.4 794.1h0M891.7 776.6h0M890.1 791.6h0M897.9 764.3h0M897.0 799.2h0M900.8 785.0h0M890.5 785.7h0M888.3 809.8h0M894.0 773.1h0M896.7 800.3h0M911.0 789.7h0M890.7 792.6h0M885.7 801.2h0M900.0 783.2h0M901.7 802.7h0M903.6 791.0h0M893.4 775.0h0M892.4 781.6h0M894.4 767.5h0M893.1 783.8h0M908.9 775.2h0M899.0 764.2h0M902.3 788.5h0M904.4 777.4h0M896.1 769.6h0M898.8 775.1h0M899.6 779.6h0M907.5 785.8h0M904.1 790.7h0M905.9 774.1h0M895.7 781.0h0M912.7 780.4h0M899.1 764.0h0M909.4 778.5h0M902.8 750.1h0M896.8 795.7h0M901.4 783.1h0M910.6 789.5h0M900.0 765.9h0M901.0 786.5h0M903.3 757.3h0M893.8 809.4h0M900.4 749.4h0M902.8 760.7h0M908.0 793.0h0M893.4 760.5h0M902.7 785.4h0M900.6 769.1h0M911.1 789.5h0M908.9 791.4h0M902.5 769.1h0M905.1 776.9h0M895.3 779.5h0M893.7 752.7h0M898.7 795.9h0M900.6 759.0h0M889.5 793.1h0M886.2 802.9h0M897.7 801.4h0M902.2 794.5h0M906.4 792.9h0M885.4 800.1h0M909.0 784.4h0M889.8 787.2h0M899.8 768.6h0M898.9 769.5h0M897.9 745.1h0M902.1 755.9h0M910.2 783.5h0M895.5 780.3h0M895.2 791.9h0M894.9 791.8h0M906.1 797.2h0M887.2 810.9h0M894.6 784.7h0M901.0 804.6h0M900.6 751.5h0M902.5 761.9h0M893.5 784.8h0M900.4 766.1h0M902.8 746.9h0M898.2 792.9h0M896.4 764.6h0M895.7 764.2h0M905.9 774.7h0M889.9 785.5h0M896.2 755.1h0M905.5 782.4h0M908.3 790.2h0M900.1 802.3h0M894.9 750.2h0M899.6 751.3h0M901.8 800.0h0M894.1 750.7h0M903.8 793.3h0M910.1 781.1h0M901.1 802.7h0M892.4 796.5h0M902.6 775.1h0M891.7 784.4h0M899.0 778.1h0M901.9 790.1h0M892.5 774.2h0M898.9 798.6h0M895.6 806.8h0M859.8 730.9h0M859.9 740.5h0M860.2 742.0h0M861.7 735.8h0M860.3 742.1h0M901.9 735.1h0M900.1 732.7h0M895.0 738.8h0M899.7 737.2h0M901.4 737.1h0M897.8 737.8h0M897.5 733.5h0M897.4 737.8h0M897.2 732.5h0M902.1 740.5h0"/>
<path fill="none" stroke="#d5d2cc" stroke-width="3.5" stroke-linecap="round" d="M917.3 650.3h0M974.8 661.1h0M908.4 670.7h0M918.5 670.4h0M946.1 673.7h0M907.3 678.6h0M905.6 680.0h0M918.5 680.3h0M997.8 686.1h0M943.9 692.2h0M910.4 697.1h0M923.5 699.9h0M927.4 700.0h0M943.9 701.7h0M914.0 707.0h0M910.9 709.1h0M923.5 708.9h0M932.4 712.8h0M923.5 713.1h0M913.8 716.7h0M935.7 717.4h0M962.3 716.5h0M943.2 719.7h0M949.4 719.1h0M1015.4 718.7h0M910.2 722.4h0M916.9 721.7h0M996.8 722.8h0M935.3 724.0h0M937.5 726.4h0M923.1 728.9h0M929.8 728.3h0M939.6 729.3h0M907.7 730.9h0M916.6 732.2h0M926.2 733.2h0M952.7 733.3h0M964.3 733.8h0M997.1 733.0h0M913.3 735.8h0M941.0 737.5h0M907.3 741.5h0M910.2 740.8h0M917.3 740.8h0M930.3 741.8h0M905.9 744.4h0M914.5 744.4h0M938.6 744.0h0M908.0 747.3h0M915.9 746.5h0M926.0 747.3h0M910.9 749.4h0M913.8 750.1h0M921.7 749.4h0M930.0 752.3h0M906.6 755.2h0M913.0 753.7h0M915.9 754.4h0M974.8 755.9h0M994.9 757.9h0M909.4 758.7h0M912.3 758.0h0M920.9 759.5h0M932.4 759.9h0M908.7 762.3h0M910.9 761.6h0M907.3 765.2h0M909.4 764.5h0M938.9 765.2h0M971.6 765.4h0M908.7 745.8h0M911.9 751.6h0M914.5 748.0h0M910.4 756.6h0M912.7 760.2h0M908.2 752.3h0M917.6 748.7h0M923.1 750.1h0M915.2 756.6h0M909.9 766.6h0"/>
<path fill="none" stroke="#1b63b0" stroke-width="3.9" stroke-linecap="round" d="M769.6 669.7h0M841.7 680.5h0M826.3 685.6h0M847.8 690.7h0M821.7 697.1h0M803.3 698.7h0M766.0 703.0h0M823.7 705.9h0M830.2 705.6h0M839.9 707.6h0M817.2 714.1h0M830.2 714.9h0M795.1 715.8h0M854.3 714.5h0M778.9 718.7h0M842.1 718.4h0M845.0 721.3h0M839.2 722.0h0M852.9 723.1h0M842.8 725.6h0M846.4 727.0h0M811.5 730.3h0M829.4 730.0h0M818.1 733.5h0M824.6 732.7h0M837.1 730.6h0M840.6 732.0h0M850.0 731.3h0M854.3 732.7h0M837.8 734.9h0M845.0 736.3h0M832.7 739.2h0M827.0 739.5h0M824.8 742.1h0M811.9 742.5h0M815.9 741.8h0M761.2 746.1h0M781.5 751.7h0M797.6 751.7h0M815.9 751.1h0M818.1 758.9h0M824.6 759.3h0M832.7 761.5h0M813.4 764.1h0M790.8 765.1h0M796.8 767.2h0M825.1 767.9h0M843.7 757.4h0M855.9 754.8h0M845.2 758.1h0M836.8 756.1h0M848.3 763.7h0M834.5 750.4h0M850.0 743.2h0M848.9 758.9h0M836.9 748.7h0M843.4 765.1h0M845.4 759.6h0M844.9 760.2h0M843.9 749.7h0M853.8 761.4h0M840.2 748.3h0M851.8 753.0h0M853.9 752.6h0M855.6 754.9h0M852.2 749.4h0M834.3 751.2h0M835.1 748.8h0M852.6 746.9h0M846.5 754.3h0M835.0 753.6h0M837.5 749.4h0M839.9 766.2h0M837.5 752.8h0M854.1 759.6h0M837.5 749.1h0M852.0 751.1h0M838.3 758.5h0M841.6 754.5h0M856.8 755.3h0M846.9 765.7h0M836.8 746.3h0M838.5 747.3h0M851.1 767.7h0M854.8 758.6h0M838.2 761.3h0M838.7 764.6h0M847.4 750.1h0M833.8 748.3h0M846.5 765.3h0M847.9 749.7h0M855.7 747.6h0M832.5 749.4h0M836.6 752.1h0M846.8 745.7h0M841.4 766.4h0M849.9 758.0h0M850.2 768.4h0M844.5 762.0h0M851.1 766.6h0M851.1 761.3h0M852.5 767.1h0M841.1 760.8h0M842.8 763.7h0M854.4 757.7h0M848.2 752.5h0M847.1 758.7h0M850.9 752.7h0M851.0 757.9h0M843.4 765.0h0M844.5 748.4h0M850.1 755.7h0M847.9 767.2h0M839.8 760.6h0M837.3 746.7h0M855.4 760.1h0M843.5 766.4h0M840.5 760.3h0M837.2 753.8h0M852.9 767.0h0M854.8 752.6h0M847.1 750.7h0M844.1 754.0h0M851.3 761.3h0M833.5 751.7h0M851.5 744.0h0M852.3 754.7h0M844.0 766.2h0M852.8 744.3h0M838.5 752.6h0M845.6 768.7h0M856.4 756.2h0M852.4 764.2h0M840.7 758.0h0M843.1 756.0h0M854.6 753.4h0M843.4 749.0h0M840.5 747.2h0M856.2 752.4h0M840.3 756.4h0M840.8 753.7h0M853.9 743.4h0M834.8 755.8h0M848.2 749.1h0M847.8 762.1h0M842.8 745.3h0M841.1 745.9h0M854.5 750.9h0M851.5 760.4h0M847.6 761.1h0M855.1 747.3h0M841.4 766.1h0M835.8 750.6h0M850.2 760.2h0M850.4 767.8h0M844.4 752.2h0M847.8 750.4h0M843.0 767.3h0M847.8 767.4h0M836.2 748.0h0M849.0 765.7h0M850.1 752.4h0M848.2 753.9h0M834.2 749.8h0M840.3 757.3h0M840.4 761.7h0M852.6 757.6h0M839.2 753.2h0M846.0 760.2h0M836.1 761.0h0M845.6 763.8h0M845.0 765.6h0M843.3 756.1h0M838.5 748.8h0M836.4 758.0h0M839.2 750.9h0M849.5 747.3h0M848.7 765.2h0M849.7 743.4h0M836.2 759.2h0M855.9 760.6h0M855.3 747.6h0M856.2 754.3h0M854.2 760.5h0M856.2 765.3h0M846.0 746.1h0M854.4 758.8h0M842.5 747.0h0M842.8 763.0h0M846.1 746.6h0M849.1 767.0h0M852.2 756.6h0M852.2 754.2h0M834.8 749.7h0M851.1 747.8h0M841.9 763.5h0M840.2 758.6h0M842.2 763.1h0M854.6 745.5h0M836.3 762.0h0M853.4 754.8h0M853.3 744.8h0M840.2 752.8h0M838.8 763.8h0M839.8 759.9h0M847.8 757.3h0M848.9 762.9h0M850.2 747.6h0M842.2 759.8h0M855.5 759.0h0M847.8 765.6h0M841.6 766.3h0M839.5 756.4h0M848.5 747.3h0M840.2 760.5h0M847.6 752.9h0M846.0 768.9h0M854.2 746.1h0M849.0 758.8h0M834.4 752.7h0M855.2 751.7h0M838.8 756.5h0M849.5 769.0h0M844.8 766.2h0M844.3 753.3h0M842.6 748.7h0M848.9 767.5h0M846.2 759.8h0M845.5 767.2h0M840.7 758.1h0M849.0 758.9h0M848.0 762.1h0M842.5 759.5h0M846.1 754.6h0M853.9 751.0h0M846.3 744.2h0M848.1 763.7h0M839.9 749.7h0M852.9 750.6h0M846.1 743.6h0M856.1 752.2h0M847.8 760.3h0M836.0 754.9h0M837.6 747.5h0M848.8 767.8h0M847.3 761.6h0M837.1 752.2h0M849.4 764.5h0M840.3 767.0h0M848.6 758.2h0M854.0 744.5h0M853.0 758.5h0M847.8 749.3h0M837.6 754.9h0M850.5 743.4h0M846.7 764.1h0M840.2 751.2h0M838.1 750.3h0M847.5 727.9h0M847.4 726.4h0M844.9 716.4h0M853.4 719.0h0M837.3 728.8h0M851.1 741.0h0M846.3 724.2h0M836.8 718.5h0M834.7 737.8h0M839.2 729.6h0M851.2 715.4h0M837.1 741.6h0M852.6 730.5h0M851.1 730.5h0M839.1 736.7h0M835.0 746.8h0M842.5 739.6h0M837.0 733.2h0M840.3 733.4h0M842.4 719.6h0M855.4 740.9h0M843.0 728.7h0M854.0 739.7h0"/>
<circle cx="739.4" cy="644.7" r="3.4" fill="#1a6bbd"/>
<path d="M856.5 632.4 V829.0 M904.3 632.4 V829.0 M728.8 769.1 H1032.0" stroke="#444" stroke-width="1.3" stroke-dasharray="2.2 1.6" fill="none"/>
<rect x="728.8" y="632.4" width="303.20000000000005" height="196.60000000000002" fill="none" stroke="#333" stroke-width="2"/>
<path d="M721.5999999999999 815.6 H728.8" stroke="#333" stroke-width="1.7"/>
<text x="720.8" y="819.2" font-size="10.78" text-anchor="end" fill="#1c1c1c" stroke="#1c1c1c" stroke-width="0.25" >0</text>
<path d="M721.5999999999999 781.5 H728.8" stroke="#333" stroke-width="1.7"/>
<text x="720.8" y="785.1" font-size="10.78" text-anchor="end" fill="#1c1c1c" stroke="#1c1c1c" stroke-width="0.25" >1</text>
<path d="M721.5999999999999 747.5 H728.8" stroke="#333" stroke-width="1.7"/>
<text x="720.8" y="751.1" font-size="10.78" text-anchor="end" fill="#1c1c1c" stroke="#1c1c1c" stroke-width="0.25" >2</text>
<path d="M721.5999999999999 713.5 H728.8" stroke="#333" stroke-width="1.7"/>
<text x="720.8" y="717.1" font-size="10.78" text-anchor="end" fill="#1c1c1c" stroke="#1c1c1c" stroke-width="0.25" >3</text>
<path d="M721.5999999999999 679.4 H728.8" stroke="#333" stroke-width="1.7"/>
<text x="720.8" y="683.0" font-size="10.78" text-anchor="end" fill="#1c1c1c" stroke="#1c1c1c" stroke-width="0.25" >4</text>
<path d="M721.5999999999999 645.4 H728.8" stroke="#333" stroke-width="1.7"/>
<text x="720.8" y="649.0" font-size="10.78" text-anchor="end" fill="#1c1c1c" stroke="#1c1c1c" stroke-width="0.25" >5</text>
<path d="M771.7 829.0 V834.5" stroke="#333" stroke-width="1.6"/>
<text x="775.3" y="846.3" font-size="10.78" text-anchor="middle" fill="#1c1c1c" stroke="#1c1c1c" stroke-width="0.25" >-2</text>
<path d="M826.1 829.0 V834.5" stroke="#333" stroke-width="1.6"/>
<text x="829.7" y="846.3" font-size="10.78" text-anchor="middle" fill="#1c1c1c" stroke="#1c1c1c" stroke-width="0.25" >-1</text>
<path d="M880.5 829.0 V834.5" stroke="#333" stroke-width="1.6"/>
<text x="884.1" y="846.3" font-size="10.78" text-anchor="middle" fill="#1c1c1c" stroke="#1c1c1c" stroke-width="0.25" >0</text>
<path d="M934.9 829.0 V834.5" stroke="#333" stroke-width="1.6"/>
<text x="938.5" y="846.3" font-size="10.78" text-anchor="middle" fill="#1c1c1c" stroke="#1c1c1c" stroke-width="0.25" >1</text>
<path d="M989.3 829.0 V834.5" stroke="#333" stroke-width="1.6"/>
<text x="992.9" y="846.3" font-size="10.78" text-anchor="middle" fill="#1c1c1c" stroke="#1c1c1c" stroke-width="0.25" >2</text>
<text x="879.5" y="624.9" font-size="12.98" text-anchor="middle" fill="#1c1c1c" stroke="#1c1c1c" stroke-width="0.25" textLength="84.0" lengthAdjust="spacingAndGlyphs" >Volcano plot</text>
<text x="883.5" y="860.0" font-size="11.88" text-anchor="middle" fill="#1c1c1c" stroke="#1c1c1c" stroke-width="0.25" textLength="158.0" lengthAdjust="spacingAndGlyphs" >log2 FC(PROTACs/Control)</text>
<text transform="translate(699.6 729.2) rotate(-90)" font-size="10.34" text-anchor="middle" fill="#1c1c1c" stroke="#1c1c1c" stroke-width="0.25" textLength="90" lengthAdjust="spacingAndGlyphs">-log10(p-value)</text>
<text x="746.5" y="648.2" font-size="12.98" text-anchor="start" fill="#1c1c1c" stroke="#1c1c1c" stroke-width="0.25" textLength="97.0" lengthAdjust="spacingAndGlyphs" >Potential targets</text>
<path d="M287.6 1001.5C295.8 1000.2 306.9 1001.1 313.4 1002.3C319.9 1003.5 323.2 1005.8 326.3 1008.8C329.5 1011.7 331.6 1016.5 332.3 1020.1C333.1 1023.7 332.0 1028.0 330.9 1030.6C329.7 1033.2 327.6 1035.4 325.5 1035.9C323.4 1036.5 320.9 1034.0 318.3 1033.8C315.6 1033.7 312.2 1034.0 309.4 1035.0C306.5 1036.0 303.4 1037.4 301.3 1039.8C299.2 1042.2 297.1 1046.0 296.8 1049.2C296.4 1052.4 297.5 1056.4 299.2 1058.9C300.9 1061.4 304.0 1063.3 306.9 1064.2C309.9 1065.1 313.4 1064.3 316.6 1064.5C319.9 1064.8 324.0 1064.6 326.7 1065.7C329.3 1066.7 331.3 1068.8 332.3 1071.0C333.3 1073.2 333.6 1076.5 332.8 1079.1C332.0 1081.7 330.6 1084.5 327.6 1086.7C324.7 1088.8 321.2 1090.9 315.0 1092.0C308.9 1093.1 298.9 1093.7 290.8 1093.1C282.7 1092.5 273.8 1090.7 266.6 1088.3C259.3 1085.9 252.3 1082.7 247.5 1078.6C242.6 1074.5 239.0 1069.2 237.5 1063.7C235.9 1058.3 236.7 1052.1 238.3 1045.9C239.9 1039.8 242.9 1032.8 247.2 1026.9C251.5 1021.0 257.4 1014.6 264.1 1010.4C270.9 1006.2 279.3 1002.9 287.6 1001.5Z" fill="#f6ab92" stroke="#6a5a50" stroke-width="1"/>
<text x="268.2" y="990.7" font-size="17.38" text-anchor="start" fill="#111" stroke="#111" stroke-width="0.45" textLength="58.9" lengthAdjust="spacingAndGlyphs" >ABPP</text>
<text x="270.0" y="1051.6" font-size="14.30" text-anchor="middle" fill="#111" stroke="#111" stroke-width="0.45" textLength="46.4" lengthAdjust="spacingAndGlyphs" >Target</text>
<text x="269.0" y="1067.8" font-size="14.30" text-anchor="middle" fill="#111" stroke="#111" stroke-width="0.45" textLength="54.9" lengthAdjust="spacingAndGlyphs" >Protein</text>
<path d="M325 1049.3 H347.5" stroke="#444" stroke-width="1.2"/>
<circle cx="315" cy="1049.2" r="9.8" fill="#9dc3ec" stroke="#3c4a62" stroke-width="1.2"/>
<polygon points="335.37,1034.19 336.20,1037.56 339.66,1037.78 337.16,1040.19 338.69,1043.30 335.36,1042.33 333.43,1045.21 332.60,1041.84 329.14,1041.62 331.64,1039.21 330.11,1036.10 333.44,1037.07" fill="#f0b93a" stroke="#5a4520" stroke-width="0.9" stroke-linejoin="round"/>
<path d="M347.4 1039.6 L366 1050.1 L347.4 1060.6 Z" fill="#e9e7df" stroke="#55554f" stroke-width="1.2"/>
<path d="M860.0 1001.4C866.0 1001.7 872.6 1003.4 878.0 1005.9C883.4 1008.5 888.5 1012.2 892.4 1016.7C896.2 1021.2 899.2 1027.2 901.3 1032.8C903.4 1038.5 904.9 1044.8 904.9 1050.8C904.9 1056.8 903.7 1063.4 901.3 1068.7C898.9 1074.1 895.0 1079.4 890.6 1083.1C886.1 1086.8 880.1 1089.6 874.4 1091.2C868.7 1092.7 862.4 1093.1 856.4 1092.4C850.5 1091.8 843.0 1089.4 838.5 1087.1C834.0 1084.7 831.3 1080.4 829.5 1078.1C827.7 1075.8 826.8 1074.8 827.7 1073.2C828.6 1071.7 831.9 1070.3 834.9 1068.7C837.9 1067.2 842.4 1065.2 845.7 1063.7C849.0 1062.3 851.8 1061.1 854.6 1060.1C857.5 1059.2 860.9 1059.5 862.7 1058.0C864.6 1056.4 865.6 1053.5 865.8 1050.8C865.9 1048.1 864.9 1043.9 863.6 1041.8C862.4 1039.7 860.6 1039.7 858.2 1038.2C855.8 1036.7 852.9 1034.3 849.3 1032.8C845.7 1031.3 840.3 1030.7 836.7 1029.2C833.1 1027.7 829.5 1025.7 827.7 1023.9C825.9 1022.1 825.6 1020.6 825.9 1018.5C826.2 1016.4 826.8 1013.7 829.5 1011.3C832.2 1008.9 837.0 1005.8 842.1 1004.1C847.2 1002.5 854.1 1001.1 860.0 1001.4Z" fill="#fdf1d9" stroke="#5a5a5a" stroke-width="1"/>
<path d="M788.2 1000.5C795.1 999.7 801.1 1001.0 806.2 1002.3C811.3 1003.7 815.7 1006.1 818.7 1008.6C821.8 1011.1 823.7 1014.7 824.5 1017.6C825.3 1020.5 824.7 1023.6 823.6 1026.0C822.5 1028.4 820.4 1030.7 817.8 1031.9C815.2 1033.1 811.1 1032.4 808.0 1033.2C804.8 1034.0 801.4 1035.1 799.0 1036.8C796.6 1038.5 794.8 1041.3 793.6 1043.6C792.4 1045.9 791.7 1048.1 791.8 1050.8C792.0 1053.5 792.7 1057.5 794.5 1059.8C796.3 1062.0 799.4 1063.3 802.6 1064.3C805.7 1065.2 810.1 1064.7 813.4 1065.5C816.6 1066.3 820.3 1067.1 822.3 1069.1C824.3 1071.1 825.7 1074.9 825.4 1077.7C825.1 1080.5 823.1 1083.7 820.5 1085.8C817.9 1087.9 815.2 1089.2 809.8 1090.3C804.4 1091.4 795.7 1092.4 788.2 1092.4C780.7 1092.4 771.8 1091.8 764.9 1090.3C758.0 1088.7 751.9 1086.4 746.9 1083.1C742.0 1079.8 737.8 1075.0 735.3 1070.5C732.7 1066.1 731.7 1061.6 731.7 1056.2C731.7 1050.8 732.7 1044.1 735.3 1038.2C737.8 1032.3 742.0 1025.8 746.9 1020.6C751.9 1015.5 758.0 1010.5 764.9 1007.2C771.8 1003.8 781.3 1001.3 788.2 1000.5Z" fill="#f6ab92" stroke="#6a5a50" stroke-width="1"/>
<text x="796.8" y="990.1" font-size="17.38" text-anchor="start" fill="#111" stroke="#111" stroke-width="0.45" textLength="58.2" lengthAdjust="spacingAndGlyphs" >DBPP</text>
<text x="765.3" y="1050.8" font-size="14.30" text-anchor="middle" fill="#111" stroke="#111" stroke-width="0.45" textLength="45.8" lengthAdjust="spacingAndGlyphs" >Target</text>
<text x="764.5" y="1067.8" font-size="14.30" text-anchor="middle" fill="#111" stroke="#111" stroke-width="0.45" textLength="54.7" lengthAdjust="spacingAndGlyphs" >Protein</text>
<text x="873.5" y="1053.5" font-size="15.18" text-anchor="start" fill="#111" stroke="#111" stroke-width="0.45" textLength="19.8" lengthAdjust="spacingAndGlyphs" >E3</text>
<path d="M816.9 1049.0 H839.9" stroke="#222" stroke-width="1.8"/>
<path d="M794.5 1049.0C794.5 1046.2 795.6 1042.0 797.2 1040.6C798.8 1039.1 801.1 1039.0 804.4 1040.4C807.7 1041.8 816.9 1046.1 816.9 1049.0C816.9 1051.9 807.7 1056.5 804.4 1058.0C801.1 1059.4 798.8 1059.1 797.2 1057.6C795.6 1056.1 794.5 1051.8 794.5 1049.0Z" fill="#92c1ea" stroke="#4a5878" stroke-width="0.9"/>
<path d="M863.1 1049.0C863.1 1045.9 861.0 1041.0 859.1 1039.7C857.3 1038.3 855.2 1039.4 852.0 1040.9C848.7 1042.5 839.4 1046.2 839.4 1049.0C839.4 1051.7 848.7 1055.8 852.0 1057.4C855.2 1059.0 857.3 1059.9 859.1 1058.5C861.0 1057.1 863.1 1052.1 863.1 1049.0Z" fill="#5d64ba" stroke="#30356a" stroke-width="0.9"/>
<text x="562.2" y="1093.6" font-size="30.14" text-anchor="middle" fill="#111" stroke="#111" stroke-width="0.45" textLength="106.7" lengthAdjust="spacingAndGlyphs" >Versus</text>
<text x="216.2" y="1138.8" font-size="19.69" text-anchor="start" fill="#111" stroke="#111" stroke-width="0.45" textLength="164.4" lengthAdjust="spacingAndGlyphs" >Binary complex</text>
<text x="250.4" y="1174.0" font-size="19.69" text-anchor="start" fill="#111" stroke="#111" stroke-width="0.45" textLength="96.5" lengthAdjust="spacingAndGlyphs" >Covalent</text>
<text x="180.0" y="1209.2" font-size="19.69" text-anchor="start" fill="#111" stroke="#111" stroke-width="0.45" textLength="235.8" lengthAdjust="spacingAndGlyphs" >Strong binding affinity</text>
<text x="118.1" y="1245.9" font-size="19.69" text-anchor="start" fill="#111" stroke="#111" stroke-width="0.45" textLength="365.6" lengthAdjust="spacingAndGlyphs" >Protein-small molecule interaction</text>
<text x="205.1" y="1281.1" font-size="19.69" text-anchor="start" fill="#111" stroke="#111" stroke-width="0.45" textLength="184.5" lengthAdjust="spacingAndGlyphs" >Single compound</text>
<text x="740.0" y="1138.8" font-size="19.69" text-anchor="start" fill="#111" stroke="#111" stroke-width="0.45" textLength="173.5" lengthAdjust="spacingAndGlyphs" >Ternary complex</text>
<text x="755.1" y="1174.0" font-size="19.69" text-anchor="start" fill="#111" stroke="#111" stroke-width="0.45" textLength="141.8" lengthAdjust="spacingAndGlyphs" >Non-covalent</text>
<text x="663.6" y="1209.2" font-size="19.69" text-anchor="start" fill="#111" stroke="#111" stroke-width="0.45" textLength="323.8" lengthAdjust="spacingAndGlyphs" >Moderate/Weak binding affinity</text>
<text x="581.7" y="1245.9" font-size="19.69" text-anchor="start" fill="#111" stroke="#111" stroke-width="0.45" textLength="492.7" lengthAdjust="spacingAndGlyphs" >Chemically induced protein-protein interaciton</text>
<text x="690.8" y="1281.1" font-size="19.69" text-anchor="start" fill="#111" stroke="#111" stroke-width="0.45" textLength="269.4" lengthAdjust="spacingAndGlyphs" >Single compound/Mixture</text>

</g>
</svg>
</body></html>
